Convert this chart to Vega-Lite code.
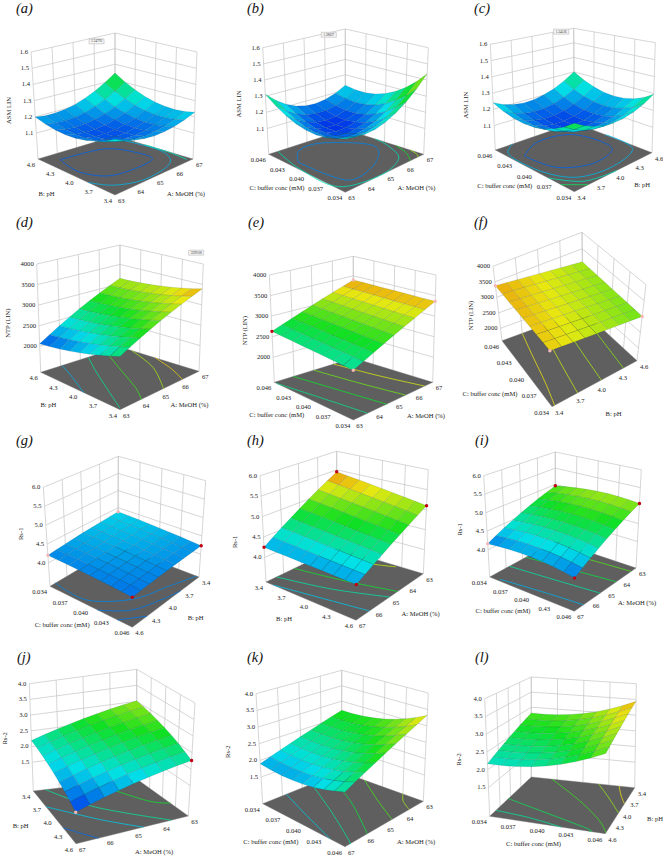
{"$schema":"https://vega.github.io/schema/vega-lite/v6.json","background":"white","padding":0,"autosize":{"type":"none"},"width":663,"height":856,"config":{"view":{"stroke":null}},
"datasets":{"panels":[
{"p":"a","fx":115,"fy":195,"rx":193,"ry":159,"bx":115,"by":136,"lx":38,"ly":159,"afx":115,"afy":83,"arx":197,"ary":52,"abx":115,"aby":33,"alx":31,"aly":52,"zmin":0.94,"zmax":1.6,"cmin":1.12,"cspan":0.42,"tux":32,"tuy":17,"tvx":-30,"tvy":17,"twx":-26,"twy":5,"tagx":16,"tagy":9},
{"p":"b","fx":124.3,"fy":192.3,"rx":202.7,"ry":154.3,"bx":124.3,"by":129.5,"lx":47.7,"ly":154.3,"afx":124.3,"afy":80,"arx":207.3,"ary":47.7,"abx":124.3,"aby":29,"alx":41.7,"aly":47.7,"zmin":0.94,"zmax":1.6,"cmin":1.12,"cspan":0.42,"tux":32,"tuy":15,"tvx":-30,"tvy":15,"twx":-27,"twy":3,"tagx":26,"tagy":9},
{"p":"c","fx":132.3,"fy":191.7,"rx":210,"ry":152.7,"bx":132.3,"by":122.7,"lx":53.3,"ly":150,"afx":132.3,"afy":79,"arx":213.3,"ary":42.7,"abx":131.7,"aby":28.3,"alx":48.3,"aly":44.3,"zmin":0.95,"zmax":1.6,"cmin":1.12,"cspan":0.42,"tux":29,"tuy":13,"tvx":-30,"tvy":15,"twx":-27,"twy":8,"tagx":32,"tagy":9},
{"p":"d","fx":120,"fy":195.7,"rx":199,"ry":157.3,"bx":120,"by":133,"lx":40.7,"ly":158.3,"afx":120,"afy":82.7,"arx":203.3,"ary":50,"abx":120,"aby":31,"alx":36.7,"aly":50,"zmin":1368,"zmax":4000,"cmin":2000,"cspan":1650,"tux":30,"tuy":14,"tvx":-32,"tvy":14,"twx":-31,"twy":5,"tagx":16,"tagy":9},
{"p":"e","fx":132.3,"fy":206,"rx":211.7,"ry":168.3,"bx":132.3,"by":144,"lx":53.3,"ly":168.3,"afx":132.3,"afy":93,"arx":215,"ary":61,"abx":132.3,"aby":42.3,"alx":48.3,"aly":61,"zmin":1392,"zmax":4000,"cmin":2000,"cspan":1650,"tux":33,"tuy":15,"tvx":-37,"tvy":14,"twx":-27,"twy":2,"tagx":27,"tagy":9},
{"p":"f","fx":110,"fy":192.7,"rx":195,"ry":146.7,"bx":141,"by":97,"lx":60,"ly":126.7,"afx":107,"afy":113.7,"arx":204,"ary":70.7,"abx":140,"aby":18.3,"alx":51,"aly":52.3,"zmin":1602,"zmax":4000,"cmin":2000,"cspan":1650,"tux":19,"tuy":30,"tvx":-37,"tvy":20,"twx":-27,"twy":12,"tagx":32,"tagy":9},
{"p":"g","fx":132.3,"fy":199.3,"rx":199,"ry":149,"bx":118,"by":118,"lx":50,"ly":158.3,"afx":132.5,"afy":97,"arx":205.7,"ary":52.7,"abx":118.3,"aby":28.3,"alx":43.3,"aly":59.3,"zmin":3.38,"zmax":6,"cmin":4,"cspan":1.65,"tux":30,"tuy":16,"tvx":-29,"tvy":18,"twx":-26,"twy":-3,"tagx":16,"tagy":13},
{"p":"h","fx":135,"fy":192.3,"rx":202.3,"ry":145.7,"bx":115.7,"by":120,"lx":45,"ly":154,"afx":136,"afy":81.8,"arx":207.3,"ary":41.7,"abx":115.7,"aby":23.3,"alx":39,"aly":47.7,"zmin":3.4,"zmax":6,"cmin":4,"cspan":1.65,"tux":31,"tuy":17,"tvx":-27,"tvy":18,"twx":-28,"twy":13,"tagx":26,"tagy":13},
{"p":"i","fx":132.3,"fy":183.3,"rx":194,"ry":140,"bx":113.3,"by":113,"lx":47.7,"ly":149,"afx":133,"afy":78.3,"arx":199.3,"ary":41.7,"abx":113.3,"aby":24,"alx":41.7,"aly":47.7,"zmin":3.26,"zmax":6,"cmin":4,"cspan":1.65,"tux":32,"tuy":13,"tvx":-29,"tvy":17,"twx":-27,"twy":3,"tagx":33,"tagy":13},
{"p":"j","fx":76,"fy":201.7,"rx":188.3,"ry":174,"bx":136.7,"by":137,"lx":33.3,"ly":149,"afx":75,"afy":85.7,"arx":195,"ary":61,"abx":136.7,"aby":27.3,"alx":29.3,"aly":41.7,"zmin":0.58,"zmax":4,"cmin":1.5,"cspan":2.3,"tux":22,"tuy":22,"tvx":-34,"tvy":9,"twx":-26,"twy":1,"tagx":17,"tagy":15.7},
{"p":"k","fx":124,"fy":204.7,"rx":202.3,"ry":159.3,"bx":120.7,"by":130,"lx":41.7,"ly":161.7,"afx":124,"afy":90.2,"arx":207.3,"ary":51,"abx":120.7,"aby":28.3,"alx":35,"aly":51.7,"zmin":0.7,"zmax":4,"cmin":1.5,"cspan":2.3,"tux":32,"tuy":18,"tvx":-33,"tvy":17,"twx":-31,"twy":3,"tagx":26,"tagy":16},
{"p":"l","fx":163.3,"fy":191.7,"rx":192.7,"ry":145.7,"bx":89.3,"by":135,"lx":47.7,"ly":174.3,"afx":164,"afy":71.7,"arx":194.3,"ary":41.7,"abx":89.3,"aby":35,"alx":42.7,"aly":56.7,"zmin":0.69,"zmax":4,"cmin":1.5,"cspan":2.3,"tux":35,"tuy":8,"tvx":-14,"tvy":19,"twx":-28,"twy":2,"tagx":33,"tagy":16}
],
"rows":[
{"p":"a","kind":"floor"},{"p":"b","kind":"floor"},{"p":"c","kind":"floor"},{"p":"d","kind":"floor"},{"p":"e","kind":"floor"},{"p":"f","kind":"floor"},{"p":"g","kind":"floor"},{"p":"h","kind":"floor"},{"p":"i","kind":"floor"},{"p":"j","kind":"floor"},{"p":"k","kind":"floor"},{"p":"l","kind":"floor"},
{"p":"a","kind":"flag","u":0.78,"v":1,"w":0.96,"label":"1.34793"},{"p":"b","kind":"flag","u":0.8,"v":1,"w":0.98,"label":"1.38827"},{"p":"c","kind":"flag","u":0.85,"v":1,"w":0.99,"label":"1.34526"},{"p":"d","kind":"flag","u":1,"v":0.09,"w":1.09,"label":"3399.08"},
{"p":"a","kind":"tu","label":"A: MeOH (%)"},{"p":"a","kind":"tv","label":"B: pH"},{"p":"a","kind":"tw","label":"ASM LIN"},
{"p":"b","kind":"tu","label":"A: MeOH (%)"},{"p":"b","kind":"tv","label":"C: buffer conc (mM)"},{"p":"b","kind":"tw","label":"ASM LIN"},
{"p":"c","kind":"tu","label":"B: pH"},{"p":"c","kind":"tv","label":"C: buffer conc (mM)"},{"p":"c","kind":"tw","label":"ASM LIN"},
{"p":"d","kind":"tu","label":"A: MeOH (%)"},{"p":"d","kind":"tv","label":"B: pH"},{"p":"d","kind":"tw","label":"NTP (LIN)"},
{"p":"e","kind":"tu","label":"A: MeOH (%)"},{"p":"e","kind":"tv","label":"C: buffer conc (mM)"},{"p":"e","kind":"tw","label":"NTP (LIN)"},
{"p":"f","kind":"tu","label":"B: pH"},{"p":"f","kind":"tv","label":"C: buffer conc (mM)"},{"p":"f","kind":"tw","label":"NTP (LIN)"},
{"p":"g","kind":"tu","label":"B: pH"},{"p":"g","kind":"tv","label":"C: buffer conc (mM)"},{"p":"g","kind":"tw","label":"Rs-1"},
{"p":"h","kind":"tu","label":"A: MeOH (%)"},{"p":"h","kind":"tv","label":"B: pH"},{"p":"h","kind":"tw","label":"Rs-1"},
{"p":"i","kind":"tu","label":"A: MeOH (%)"},{"p":"i","kind":"tv","label":"C: buffer conc (mM)"},{"p":"i","kind":"tw","label":"Rs-1"},
{"p":"j","kind":"tu","label":"A: MeOH (%)"},{"p":"j","kind":"tv","label":"B: pH"},{"p":"j","kind":"tw","label":"Rs-2"},
{"p":"k","kind":"tu","label":"A: MeOH (%)"},{"p":"k","kind":"tv","label":"C: buffer conc (mM)"},{"p":"k","kind":"tw","label":"Rs-2"},
{"p":"l","kind":"tu","label":"B: pH"},{"p":"l","kind":"tv","label":"C: buffer conc (mM)"},{"p":"l","kind":"tw","label":"Rs-2"},
{"p":"a","kind":"u","f":0,"label":"63"},{"p":"a","kind":"u","f":0.25,"label":"64"},{"p":"a","kind":"u","f":0.5,"label":"65"},{"p":"a","kind":"u","f":0.75,"label":"66"},{"p":"a","kind":"u","f":1,"label":"67"},
{"p":"a","kind":"v","f":0,"label":"3.4"},{"p":"a","kind":"v","f":0.25,"label":"3.7"},{"p":"a","kind":"v","f":0.5,"label":"4.0"},{"p":"a","kind":"v","f":0.75,"label":"4.3"},{"p":"a","kind":"v","f":1,"label":"4.6"},
{"p":"a","kind":"w","f":0.242,"label":"1.1"},{"p":"a","kind":"w","f":0.394,"label":"1.2"},{"p":"a","kind":"w","f":0.545,"label":"1.3"},{"p":"a","kind":"w","f":0.697,"label":"1.4"},{"p":"a","kind":"w","f":0.848,"label":"1.5"},{"p":"a","kind":"w","f":1,"label":"1.6"},
{"p":"b","kind":"u","f":0,"label":"63"},{"p":"b","kind":"u","f":0.25,"label":"64"},{"p":"b","kind":"u","f":0.5,"label":"65"},{"p":"b","kind":"u","f":0.75,"label":"66"},{"p":"b","kind":"u","f":1,"label":"67"},
{"p":"b","kind":"v","f":0,"label":"0.034"},{"p":"b","kind":"v","f":0.25,"label":"0.037"},{"p":"b","kind":"v","f":0.5,"label":"0.040"},{"p":"b","kind":"v","f":0.75,"label":"0.043"},{"p":"b","kind":"v","f":1,"label":"0.046"},
{"p":"b","kind":"w","f":0.242,"label":"1.1"},{"p":"b","kind":"w","f":0.394,"label":"1.2"},{"p":"b","kind":"w","f":0.545,"label":"1.3"},{"p":"b","kind":"w","f":0.697,"label":"1.4"},{"p":"b","kind":"w","f":0.848,"label":"1.5"},{"p":"b","kind":"w","f":1,"label":"1.6"},
{"p":"c","kind":"u","f":0,"label":"3.4"},{"p":"c","kind":"u","f":0.25,"label":"3.7"},{"p":"c","kind":"u","f":0.5,"label":"4.0"},{"p":"c","kind":"u","f":0.75,"label":"4.3"},{"p":"c","kind":"u","f":1,"label":"4.6"},
{"p":"c","kind":"v","f":0,"label":"0.034"},{"p":"c","kind":"v","f":0.25,"label":"0.037"},{"p":"c","kind":"v","f":0.5,"label":"0.040"},{"p":"c","kind":"v","f":0.75,"label":"0.043"},{"p":"c","kind":"v","f":1,"label":"0.046"},
{"p":"c","kind":"w","f":0.231,"label":"1.1"},{"p":"c","kind":"w","f":0.385,"label":"1.2"},{"p":"c","kind":"w","f":0.538,"label":"1.3"},{"p":"c","kind":"w","f":0.692,"label":"1.4"},{"p":"c","kind":"w","f":0.846,"label":"1.5"},{"p":"c","kind":"w","f":1,"label":"1.6"},
{"p":"d","kind":"u","f":0,"label":"63"},{"p":"d","kind":"u","f":0.25,"label":"64"},{"p":"d","kind":"u","f":0.5,"label":"65"},{"p":"d","kind":"u","f":0.75,"label":"66"},{"p":"d","kind":"u","f":1,"label":"67"},
{"p":"d","kind":"v","f":0,"label":"3.4"},{"p":"d","kind":"v","f":0.25,"label":"3.7"},{"p":"d","kind":"v","f":0.5,"label":"4.0"},{"p":"d","kind":"v","f":0.75,"label":"4.3"},{"p":"d","kind":"v","f":1,"label":"4.6"},
{"p":"d","kind":"w","f":0.24,"label":"2000"},{"p":"d","kind":"w","f":0.43,"label":"2500"},{"p":"d","kind":"w","f":0.62,"label":"3000"},{"p":"d","kind":"w","f":0.81,"label":"3500"},{"p":"d","kind":"w","f":1,"label":"4000"},
{"p":"e","kind":"u","f":0,"label":"63"},{"p":"e","kind":"u","f":0.25,"label":"64"},{"p":"e","kind":"u","f":0.5,"label":"65"},{"p":"e","kind":"u","f":0.75,"label":"66"},{"p":"e","kind":"u","f":1,"label":"67"},
{"p":"e","kind":"v","f":0,"label":"0.034"},{"p":"e","kind":"v","f":0.25,"label":"0.037"},{"p":"e","kind":"v","f":0.5,"label":"0.040"},{"p":"e","kind":"v","f":0.75,"label":"0.043"},{"p":"e","kind":"v","f":1,"label":"0.046"},
{"p":"e","kind":"w","f":0.233,"label":"2000"},{"p":"e","kind":"w","f":0.425,"label":"2500"},{"p":"e","kind":"w","f":0.617,"label":"3000"},{"p":"e","kind":"w","f":0.808,"label":"3500"},{"p":"e","kind":"w","f":1,"label":"4000"},
{"p":"f","kind":"u","f":0,"label":"3.4"},{"p":"f","kind":"u","f":0.25,"label":"3.7"},{"p":"f","kind":"u","f":0.5,"label":"4.0"},{"p":"f","kind":"u","f":0.75,"label":"4.3"},{"p":"f","kind":"u","f":1,"label":"4.6"},
{"p":"f","kind":"v","f":0,"label":"0.034"},{"p":"f","kind":"v","f":0.25,"label":"0.037"},{"p":"f","kind":"v","f":0.5,"label":"0.040"},{"p":"f","kind":"v","f":0.75,"label":"0.043"},{"p":"f","kind":"v","f":1,"label":"0.046"},
{"p":"f","kind":"w","f":0.166,"label":"2000"},{"p":"f","kind":"w","f":0.374,"label":"2500"},{"p":"f","kind":"w","f":0.583,"label":"3000"},{"p":"f","kind":"w","f":0.791,"label":"3500"},{"p":"f","kind":"w","f":1,"label":"4000"},
{"p":"g","kind":"u","f":0,"label":"4.6"},{"p":"g","kind":"u","f":0.25,"label":"4.3"},{"p":"g","kind":"u","f":0.5,"label":"4.0"},{"p":"g","kind":"u","f":0.75,"label":"3.7"},{"p":"g","kind":"u","f":1,"label":"3.4"},
{"p":"g","kind":"v","f":0,"label":"0.046"},{"p":"g","kind":"v","f":0.25,"label":"0.043"},{"p":"g","kind":"v","f":0.5,"label":"0.040"},{"p":"g","kind":"v","f":0.75,"label":"0.037"},{"p":"g","kind":"v","f":1,"label":"0.034"},
{"p":"g","kind":"w","f":0.237,"label":"4.0"},{"p":"g","kind":"w","f":0.427,"label":"4.5"},{"p":"g","kind":"w","f":0.618,"label":"5.0"},{"p":"g","kind":"w","f":0.809,"label":"5.5"},{"p":"g","kind":"w","f":1,"label":"6.0"},
{"p":"h","kind":"u","f":0,"label":"67"},{"p":"h","kind":"u","f":0.25,"label":"66"},{"p":"h","kind":"u","f":0.5,"label":"65"},{"p":"h","kind":"u","f":0.75,"label":"64"},{"p":"h","kind":"u","f":1,"label":"63"},
{"p":"h","kind":"v","f":0,"label":"4.6"},{"p":"h","kind":"v","f":0.25,"label":"4.3"},{"p":"h","kind":"v","f":0.5,"label":"4.0"},{"p":"h","kind":"v","f":0.75,"label":"3.7"},{"p":"h","kind":"v","f":1,"label":"3.4"},
{"p":"h","kind":"w","f":0.231,"label":"4.0"},{"p":"h","kind":"w","f":0.423,"label":"4.5"},{"p":"h","kind":"w","f":0.615,"label":"5.0"},{"p":"h","kind":"w","f":0.808,"label":"5.5"},{"p":"h","kind":"w","f":1,"label":"6.0"},
{"p":"i","kind":"u","f":0,"label":"67"},{"p":"i","kind":"u","f":0.25,"label":"66"},{"p":"i","kind":"u","f":0.5,"label":"65"},{"p":"i","kind":"u","f":0.75,"label":"64"},{"p":"i","kind":"u","f":1,"label":"63"},
{"p":"i","kind":"v","f":0,"label":"0.046"},{"p":"i","kind":"v","f":0.25,"label":"0.43"},{"p":"i","kind":"v","f":0.5,"label":"0.040"},{"p":"i","kind":"v","f":0.75,"label":"0.037"},{"p":"i","kind":"v","f":1,"label":"0.034"},
{"p":"i","kind":"w","f":0.27,"label":"4.0"},{"p":"i","kind":"w","f":0.453,"label":"4.5"},{"p":"i","kind":"w","f":0.635,"label":"5.0"},{"p":"i","kind":"w","f":0.818,"label":"5.5"},{"p":"i","kind":"w","f":1,"label":"6.0"},
{"p":"j","kind":"u","f":0,"label":"67"},{"p":"j","kind":"u","f":0.25,"label":"66"},{"p":"j","kind":"u","f":0.5,"label":"65"},{"p":"j","kind":"u","f":0.75,"label":"64"},{"p":"j","kind":"u","f":1,"label":"63"},
{"p":"j","kind":"v","f":0,"label":"4.6"},{"p":"j","kind":"v","f":0.25,"label":"4.3"},{"p":"j","kind":"v","f":0.5,"label":"4.0"},{"p":"j","kind":"v","f":0.75,"label":"3.7"},{"p":"j","kind":"v","f":1,"label":"3.4"},
{"p":"j","kind":"w","f":0.269,"label":"1.5"},{"p":"j","kind":"w","f":0.415,"label":"2.0"},{"p":"j","kind":"w","f":0.561,"label":"2.5"},{"p":"j","kind":"w","f":0.708,"label":"3.0"},{"p":"j","kind":"w","f":0.854,"label":"3.5"},{"p":"j","kind":"w","f":1,"label":"4.0"},
{"p":"k","kind":"u","f":0,"label":"67"},{"p":"k","kind":"u","f":0.25,"label":"66"},{"p":"k","kind":"u","f":0.5,"label":"65"},{"p":"k","kind":"u","f":0.75,"label":"64"},{"p":"k","kind":"u","f":1,"label":"63"},
{"p":"k","kind":"v","f":0,"label":"0.046"},{"p":"k","kind":"v","f":0.25,"label":"0.043"},{"p":"k","kind":"v","f":0.5,"label":"0.040"},{"p":"k","kind":"v","f":0.75,"label":"0.037"},{"p":"k","kind":"v","f":1,"label":"0.034"},
{"p":"k","kind":"w","f":0.242,"label":"1.5"},{"p":"k","kind":"w","f":0.394,"label":"2.0"},{"p":"k","kind":"w","f":0.545,"label":"2.5"},{"p":"k","kind":"w","f":0.697,"label":"3.0"},{"p":"k","kind":"w","f":0.848,"label":"3.5"},{"p":"k","kind":"w","f":1,"label":"4.0"},
{"p":"l","kind":"u","f":0,"label":"4.6"},{"p":"l","kind":"u","f":0.25,"label":"4.3"},{"p":"l","kind":"u","f":0.5,"label":"4.0"},{"p":"l","kind":"u","f":0.75,"label":"3.7"},{"p":"l","kind":"u","f":1,"label":"3.4"},
{"p":"l","kind":"v","f":0,"label":"0.046"},{"p":"l","kind":"v","f":0.25,"label":"0.043"},{"p":"l","kind":"v","f":0.5,"label":"0.040"},{"p":"l","kind":"v","f":0.75,"label":"0.037"},{"p":"l","kind":"v","f":1,"label":"0.034"},
{"p":"l","kind":"w","f":0.245,"label":"1.5"},{"p":"l","kind":"w","f":0.396,"label":"2.0"},{"p":"l","kind":"w","f":0.547,"label":"2.5"},{"p":"l","kind":"w","f":0.698,"label":"3.0"},{"p":"l","kind":"w","f":0.849,"label":"3.5"},{"p":"l","kind":"w","f":1,"label":"4.0"},
{"p":"e","kind":"pt","i":0,"j":8,"z":2630,"res":"above"},{"p":"e","kind":"pt","i":8,"j":0,"z":3360,"res":"below"},{"p":"e","kind":"pt","i":8,"j":8,"z":3394,"res":"below"},{"p":"e","kind":"pt","i":0,"j":0,"z":2540,"res":"below"},
{"p":"f","kind":"pt","i":0,"j":0,"z":3302,"res":"below"},{"p":"f","kind":"pt","i":0,"j":8,"z":3376,"res":"below"},{"p":"f","kind":"pt","i":8,"j":0,"z":3000,"res":"below"},
{"p":"g","kind":"pt","i":0,"j":8,"z":4.2,"res":"below"},{"p":"g","kind":"pt","i":8,"j":0,"z":4.23,"res":"above"},{"p":"g","kind":"pt","i":0,"j":0,"z":4.15,"res":"above"},{"p":"g","kind":"pt","i":8,"j":8,"z":4.38,"res":"below"},
{"p":"h","kind":"pt","i":0,"j":8,"z":4.25,"res":"above"},{"p":"h","kind":"pt","i":0,"j":0,"z":4.24,"res":"above"},{"p":"h","kind":"pt","i":8,"j":0,"z":5.1,"res":"above"},{"p":"h","kind":"pt","i":8,"j":8,"z":5.45,"res":"above"},
{"p":"i","kind":"pt","i":0,"j":8,"z":4.16,"res":"below"},{"p":"i","kind":"pt","i":0,"j":0,"z":4.13,"res":"above"},{"p":"i","kind":"pt","i":8,"j":0,"z":5.06,"res":"above"},{"p":"i","kind":"pt","i":8,"j":8,"z":4.96,"res":"above"},
{"p":"j","kind":"pt","i":0,"j":0,"z":1.51,"res":"below"},{"p":"j","kind":"pt","i":8,"j":0,"z":2.26,"res":"above"},
{"p":"a","kind":"c","c":1,"u":0.16,"v":0.87,"z":1.15},{"p":"a","kind":"c","c":1,"u":0.66,"v":0.81,"z":1.15},{"p":"a","kind":"c","c":1,"u":0.8,"v":0.55,"z":1.15},{"p":"a","kind":"c","c":1,"u":0.76,"v":0.29,"z":1.15},{"p":"a","kind":"c","c":1,"u":0.28,"v":0.3,"z":1.15},{"p":"a","kind":"c","c":1,"u":0.1,"v":0.55,"z":1.15},{"p":"a","kind":"c","c":1,"u":0.16,"v":0.87,"z":1.15},
{"p":"a","kind":"c","c":2,"u":0.95,"v":0.9,"z":1.2},{"p":"a","kind":"c","c":2,"u":0.98,"v":0.4,"z":1.2},{"p":"a","kind":"c","c":2,"u":0.8,"v":0.1,"z":1.2},{"p":"a","kind":"c","c":2,"u":0.4,"v":0.03,"z":1.2},{"p":"a","kind":"c","c":2,"u":0.13,"v":0.15,"z":1.2},{"p":"a","kind":"c","c":2,"u":0,"v":0.35,"z":1.2},
{"p":"a","kind":"c","c":3,"u":1,"v":0.62,"z":1.25},{"p":"a","kind":"c","c":3,"u":0.995,"v":0.3,"z":1.25},{"p":"a","kind":"c","c":3,"u":0.96,"v":0.04,"z":1.25},
{"p":"b","kind":"c","c":1,"u":0.1,"v":0.71,"z":1.17},{"p":"b","kind":"c","c":1,"u":0.3,"v":0.9,"z":1.17},{"p":"b","kind":"c","c":1,"u":0.59,"v":0.89,"z":1.17},{"p":"b","kind":"c","c":1,"u":0.87,"v":0.52,"z":1.17},{"p":"b","kind":"c","c":1,"u":0.6,"v":0.22,"z":1.17},{"p":"b","kind":"c","c":1,"u":0.18,"v":0.15,"z":1.17},{"p":"b","kind":"c","c":1,"u":0.1,"v":0.71,"z":1.17},
{"p":"b","kind":"c","c":2,"u":0.12,"v":1,"z":1.25},{"p":"b","kind":"c","c":2,"u":0.01,"v":0.6,"z":1.25},{"p":"b","kind":"c","c":2,"u":0.03,"v":0.12,"z":1.25},{"p":"b","kind":"c","c":2,"u":0.45,"v":0,"z":1.25},{"p":"b","kind":"c","c":2,"u":0.8,"v":0.12,"z":1.25},{"p":"b","kind":"c","c":2,"u":0.95,"v":0.4,"z":1.25},{"p":"b","kind":"c","c":2,"u":1,"v":0.62,"z":1.25},
{"p":"b","kind":"c","c":3,"u":0.83,"v":0,"z":1.33},{"p":"b","kind":"c","c":3,"u":0.93,"v":0.15,"z":1.33},{"p":"b","kind":"c","c":3,"u":1,"v":0.35,"z":1.33},
{"p":"b","kind":"c","c":4,"u":0.93,"v":0,"z":1.4},{"p":"b","kind":"c","c":4,"u":0.97,"v":0.06,"z":1.4},{"p":"b","kind":"c","c":4,"u":1,"v":0.17,"z":1.4},
{"p":"c","kind":"c","c":1,"u":0.13,"v":0.76,"z":1.15},{"p":"c","kind":"c","c":1,"u":0.45,"v":0.9,"z":1.15},{"p":"c","kind":"c","c":1,"u":0.8,"v":0.8,"z":1.15},{"p":"c","kind":"c","c":1,"u":0.84,"v":0.36,"z":1.15},{"p":"c","kind":"c","c":1,"u":0.5,"v":0.25,"z":1.15},{"p":"c","kind":"c","c":1,"u":0.2,"v":0.42,"z":1.15},{"p":"c","kind":"c","c":1,"u":0.13,"v":0.76,"z":1.15},
{"p":"c","kind":"c","c":2,"u":0.22,"v":1,"z":1.2},{"p":"c","kind":"c","c":2,"u":0.03,"v":0.85,"z":1.2},{"p":"c","kind":"c","c":2,"u":0.04,"v":0.45,"z":1.2},{"p":"c","kind":"c","c":2,"u":0.2,"v":0.17,"z":1.2},{"p":"c","kind":"c","c":2,"u":0.55,"v":0.08,"z":1.2},{"p":"c","kind":"c","c":2,"u":0.95,"v":0.2,"z":1.2},{"p":"c","kind":"c","c":2,"u":1,"v":0.6,"z":1.2},
{"p":"c","kind":"c","c":3,"u":0,"v":0.33,"z":1.25},{"p":"c","kind":"c","c":3,"u":0.2,"v":0.07,"z":1.25},{"p":"c","kind":"c","c":3,"u":0.55,"v":0,"z":1.25},
{"p":"c","kind":"c","c":4,"u":0,"v":0.17,"z":1.3},{"p":"c","kind":"c","c":4,"u":0.18,"v":0,"z":1.3},
{"p":"d","kind":"c","c":1,"u":0.27,"v":1,"z":2300},{"p":"d","kind":"c","c":1,"u":0.15,"v":0.75,"z":2300},{"p":"d","kind":"c","c":1,"u":0,"v":0.46,"z":2300},
{"p":"d","kind":"c","c":2,"u":0.6,"v":1,"z":2600},{"p":"d","kind":"c","c":2,"u":0.4,"v":0.7,"z":2600},{"p":"d","kind":"c","c":2,"u":0.17,"v":0.3,"z":2600},{"p":"d","kind":"c","c":2,"u":0.02,"v":0.02,"z":2600},
{"p":"d","kind":"c","c":3,"u":0.82,"v":1,"z":2900},{"p":"d","kind":"c","c":3,"u":0.6,"v":0.6,"z":2900},{"p":"d","kind":"c","c":3,"u":0.4,"v":0.2,"z":2900},{"p":"d","kind":"c","c":3,"u":0.27,"v":0,"z":2900},
{"p":"d","kind":"c","c":4,"u":1,"v":0.85,"z":3100},{"p":"d","kind":"c","c":4,"u":0.82,"v":0.4,"z":3100},{"p":"d","kind":"c","c":4,"u":0.55,"v":0,"z":3100},
{"p":"d","kind":"c","c":5,"u":1,"v":0.55,"z":3300},{"p":"d","kind":"c","c":5,"u":0.9,"v":0.25,"z":3300},{"p":"d","kind":"c","c":5,"u":0.79,"v":0,"z":3300},
{"p":"e","kind":"c","c":1,"u":0,"v":0.97,"z":2620},{"p":"e","kind":"c","c":1,"u":0.1,"v":0.5,"z":2620},{"p":"e","kind":"c","c":1,"u":0.18,"v":0,"z":2620},
{"p":"e","kind":"c","c":2,"u":0.24,"v":1,"z":2800},{"p":"e","kind":"c","c":2,"u":0.34,"v":0.5,"z":2800},{"p":"e","kind":"c","c":2,"u":0.42,"v":0,"z":2800},
{"p":"e","kind":"c","c":3,"u":0.5,"v":1,"z":3000},{"p":"e","kind":"c","c":3,"u":0.58,"v":0.5,"z":3000},{"p":"e","kind":"c","c":3,"u":0.66,"v":0,"z":3000},
{"p":"e","kind":"c","c":4,"u":0.75,"v":1,"z":3200},{"p":"e","kind":"c","c":4,"u":0.82,"v":0.5,"z":3200},{"p":"e","kind":"c","c":4,"u":0.9,"v":0,"z":3200},
{"p":"f","kind":"c","c":1,"u":0.03,"v":0,"z":3250},{"p":"f","kind":"c","c":1,"u":0.1,"v":0.3,"z":3250},{"p":"f","kind":"c","c":1,"u":0.18,"v":0.7,"z":3250},{"p":"f","kind":"c","c":1,"u":0.25,"v":1,"z":3250},
{"p":"f","kind":"c","c":2,"u":0.3,"v":0,"z":3180},{"p":"f","kind":"c","c":2,"u":0.38,"v":0.5,"z":3180},{"p":"f","kind":"c","c":2,"u":0.48,"v":1,"z":3180},
{"p":"f","kind":"c","c":3,"u":0.58,"v":0,"z":3110},{"p":"f","kind":"c","c":3,"u":0.64,"v":0.5,"z":3110},{"p":"f","kind":"c","c":3,"u":0.72,"v":1,"z":3110},
{"p":"f","kind":"c","c":4,"u":0.84,"v":0,"z":3050},{"p":"f","kind":"c","c":4,"u":0.9,"v":0.5,"z":3050},{"p":"f","kind":"c","c":4,"u":0.97,"v":1,"z":3050},
{"p":"g","kind":"c","c":1,"u":0.08,"v":1,"z":4.2},{"p":"g","kind":"c","c":1,"u":0.06,"v":0.6,"z":4.2},{"p":"g","kind":"c","c":1,"u":0.35,"v":0.28,"z":4.2},{"p":"g","kind":"c","c":1,"u":0.7,"v":0.15,"z":4.2},{"p":"g","kind":"c","c":1,"u":1,"v":0.03,"z":4.2},
{"p":"g","kind":"c","c":2,"u":0.45,"v":1,"z":4.3},{"p":"g","kind":"c","c":2,"u":0.42,"v":0.75,"z":4.3},{"p":"g","kind":"c","c":2,"u":0.6,"v":0.55,"z":4.3},{"p":"g","kind":"c","c":2,"u":1,"v":0.42,"z":4.3},
{"p":"g","kind":"c","c":3,"u":0,"v":0.42,"z":4.17},{"p":"g","kind":"c","c":3,"u":0.2,"v":0.18,"z":4.17},{"p":"g","kind":"c","c":3,"u":0.5,"v":0.06,"z":4.17},{"p":"g","kind":"c","c":3,"u":0.72,"v":0,"z":4.17},
{"p":"g","kind":"c","c":4,"u":0,"v":0.18,"z":4.16},{"p":"g","kind":"c","c":4,"u":0.22,"v":0,"z":4.16},
{"p":"h","kind":"c","c":1,"u":0,"v":0.92,"z":4.35},{"p":"h","kind":"c","c":1,"u":0.1,"v":0.5,"z":4.35},{"p":"h","kind":"c","c":1,"u":0.2,"v":0,"z":4.35},
{"p":"h","kind":"c","c":2,"u":0.15,"v":1,"z":4.55},{"p":"h","kind":"c","c":2,"u":0.3,"v":0.5,"z":4.55},{"p":"h","kind":"c","c":2,"u":0.5,"v":0,"z":4.55},
{"p":"h","kind":"c","c":3,"u":0.4,"v":1,"z":4.8},{"p":"h","kind":"c","c":3,"u":0.5,"v":0.5,"z":4.8},{"p":"h","kind":"c","c":3,"u":0.62,"v":0,"z":4.8},
{"p":"h","kind":"c","c":4,"u":0.78,"v":1,"z":5.15},{"p":"h","kind":"c","c":4,"u":0.9,"v":0.55,"z":5.15},{"p":"h","kind":"c","c":4,"u":0.98,"v":0.3,"z":5.15},
{"p":"i","kind":"c","c":1,"u":0.03,"v":0.9,"z":4.3},{"p":"i","kind":"c","c":1,"u":0.1,"v":0.45,"z":4.3},{"p":"i","kind":"c","c":1,"u":0.15,"v":0,"z":4.3},
{"p":"i","kind":"c","c":2,"u":0.3,"v":1,"z":4.55},{"p":"i","kind":"c","c":2,"u":0.36,"v":0.5,"z":4.55},{"p":"i","kind":"c","c":2,"u":0.42,"v":0,"z":4.55},
{"p":"i","kind":"c","c":3,"u":0.55,"v":1,"z":4.75},{"p":"i","kind":"c","c":3,"u":0.62,"v":0.5,"z":4.75},{"p":"i","kind":"c","c":3,"u":0.68,"v":0,"z":4.75},
{"p":"i","kind":"c","c":4,"u":0.8,"v":1,"z":4.95},{"p":"i","kind":"c","c":4,"u":0.88,"v":0.5,"z":4.95},{"p":"i","kind":"c","c":4,"u":0.92,"v":0,"z":4.95},
{"p":"j","kind":"c","c":1,"u":0,"v":0.3,"z":1.7},{"p":"j","kind":"c","c":1,"u":0.1,"v":0.15,"z":1.7},{"p":"j","kind":"c","c":1,"u":0.2,"v":0,"z":1.7},
{"p":"j","kind":"c","c":2,"u":0,"v":0.7,"z":2},{"p":"j","kind":"c","c":2,"u":0.35,"v":0.3,"z":2},{"p":"j","kind":"c","c":2,"u":0.6,"v":0,"z":2},
{"p":"j","kind":"c","c":3,"u":0.12,"v":1,"z":2.3},{"p":"j","kind":"c","c":3,"u":0.4,"v":0.55,"z":2.3},{"p":"j","kind":"c","c":3,"u":0.85,"v":0,"z":2.3},
{"p":"j","kind":"c","c":4,"u":0.6,"v":1,"z":2.6},{"p":"j","kind":"c","c":4,"u":0.85,"v":0.5,"z":2.6},{"p":"j","kind":"c","c":4,"u":1,"v":0.35,"z":2.6},
{"p":"k","kind":"c","c":1,"u":0.3,"v":1,"z":2},{"p":"k","kind":"c","c":1,"u":0.16,"v":0.65,"z":2},{"p":"k","kind":"c","c":1,"u":0.04,"v":0.3,"z":2},{"p":"k","kind":"c","c":1,"u":0,"v":0.18,"z":2},
{"p":"k","kind":"c","c":2,"u":0.62,"v":1,"z":2.3},{"p":"k","kind":"c","c":2,"u":0.35,"v":0.5,"z":2.3},{"p":"k","kind":"c","c":2,"u":0.1,"v":0.05,"z":2.3},{"p":"k","kind":"c","c":2,"u":0.06,"v":0,"z":2.3},
{"p":"k","kind":"c","c":3,"u":0.86,"v":1,"z":2.55},{"p":"k","kind":"c","c":3,"u":0.6,"v":0.5,"z":2.55},{"p":"k","kind":"c","c":3,"u":0.35,"v":0.1,"z":2.55},{"p":"k","kind":"c","c":3,"u":0.28,"v":0,"z":2.55},
{"p":"k","kind":"c","c":4,"u":1,"v":0.72,"z":2.8},{"p":"k","kind":"c","c":4,"u":0.78,"v":0.35,"z":2.8},{"p":"k","kind":"c","c":4,"u":0.6,"v":0,"z":2.8},
{"p":"k","kind":"c","c":5,"u":1,"v":0.25,"z":3.05},{"p":"k","kind":"c","c":5,"u":0.9,"v":0.15,"z":3.05},{"p":"k","kind":"c","c":5,"u":0.82,"v":0,"z":3.05},
{"p":"l","kind":"c","c":1,"u":0.15,"v":1,"z":2.3},{"p":"l","kind":"c","c":1,"u":0.1,"v":0.7,"z":2.3},{"p":"l","kind":"c","c":1,"u":0,"v":0.38,"z":2.3},
{"p":"l","kind":"c","c":2,"u":0.45,"v":1,"z":2.5},{"p":"l","kind":"c","c":2,"u":0.28,"v":0.65,"z":2.5},{"p":"l","kind":"c","c":2,"u":0.05,"v":0.17,"z":2.5},{"p":"l","kind":"c","c":2,"u":0,"v":0.14,"z":2.5},
{"p":"l","kind":"c","c":3,"u":1,"v":0.8,"z":2.75},{"p":"l","kind":"c","c":3,"u":0.6,"v":0.4,"z":2.75},{"p":"l","kind":"c","c":3,"u":0.25,"v":0.12,"z":2.75},{"p":"l","kind":"c","c":3,"u":0.02,"v":0,"z":2.75},
{"p":"l","kind":"c","c":4,"u":1,"v":0.35,"z":3},{"p":"l","kind":"c","c":4,"u":0.75,"v":0.18,"z":3},{"p":"l","kind":"c","c":4,"u":0.45,"v":0,"z":3},
{"p":"l","kind":"c","c":5,"u":1,"v":0.15,"z":3.25},{"p":"l","kind":"c","c":5,"u":0.82,"v":0.08,"z":3.25},{"p":"l","kind":"c","c":5,"u":0.65,"v":0,"z":3.25},
{"p":"a","i":0,"j":0,"z":1.269},{"p":"a","i":0,"j":1,"z":1.234},{"p":"a","i":0,"j":2,"z":1.207},{"p":"a","i":0,"j":3,"z":1.187},{"p":"a","i":0,"j":4,"z":1.174},{"p":"a","i":0,"j":5,"z":1.169},{"p":"a","i":0,"j":6,"z":1.171},{"p":"a","i":0,"j":7,"z":1.182},{"p":"a","i":0,"j":8,"z":1.199},
{"p":"a","i":1,"j":0,"z":1.238},{"p":"a","i":1,"j":1,"z":1.206},{"p":"a","i":1,"j":2,"z":1.181},{"p":"a","i":1,"j":3,"z":1.164},{"p":"a","i":1,"j":4,"z":1.154},{"p":"a","i":1,"j":5,"z":1.152},{"p":"a","i":1,"j":6,"z":1.157},{"p":"a","i":1,"j":7,"z":1.17},{"p":"a","i":1,"j":8,"z":1.19},
{"p":"a","i":2,"j":0,"z":1.214},{"p":"a","i":2,"j":1,"z":1.185},{"p":"a","i":2,"j":2,"z":1.163},{"p":"a","i":2,"j":3,"z":1.149},{"p":"a","i":2,"j":4,"z":1.142},{"p":"a","i":2,"j":5,"z":1.143},{"p":"a","i":2,"j":6,"z":1.151},{"p":"a","i":2,"j":7,"z":1.167},{"p":"a","i":2,"j":8,"z":1.19},
{"p":"a","i":3,"j":0,"z":1.198},{"p":"a","i":3,"j":1,"z":1.172},{"p":"a","i":3,"j":2,"z":1.153},{"p":"a","i":3,"j":3,"z":1.142},{"p":"a","i":3,"j":4,"z":1.138},{"p":"a","i":3,"j":5,"z":1.142},{"p":"a","i":3,"j":6,"z":1.153},{"p":"a","i":3,"j":7,"z":1.171},{"p":"a","i":3,"j":8,"z":1.197},
{"p":"a","i":4,"j":0,"z":1.189},{"p":"a","i":4,"j":1,"z":1.166},{"p":"a","i":4,"j":2,"z":1.149},{"p":"a","i":4,"j":3,"z":1.141},{"p":"a","i":4,"j":4,"z":1.14},{"p":"a","i":4,"j":5,"z":1.147},{"p":"a","i":4,"j":6,"z":1.161},{"p":"a","i":4,"j":7,"z":1.182},{"p":"a","i":4,"j":8,"z":1.211},
{"p":"a","i":5,"j":0,"z":1.188},{"p":"a","i":5,"j":1,"z":1.168},{"p":"a","i":5,"j":2,"z":1.155},{"p":"a","i":5,"j":3,"z":1.149},{"p":"a","i":5,"j":4,"z":1.151},{"p":"a","i":5,"j":5,"z":1.161},{"p":"a","i":5,"j":6,"z":1.177},{"p":"a","i":5,"j":7,"z":1.202},{"p":"a","i":5,"j":8,"z":1.233},
{"p":"a","i":6,"j":0,"z":1.194},{"p":"a","i":6,"j":1,"z":1.176},{"p":"a","i":6,"j":2,"z":1.166},{"p":"a","i":6,"j":3,"z":1.163},{"p":"a","i":6,"j":4,"z":1.168},{"p":"a","i":6,"j":5,"z":1.181},{"p":"a","i":6,"j":6,"z":1.2},{"p":"a","i":6,"j":7,"z":1.228},{"p":"a","i":6,"j":8,"z":1.262},
{"p":"a","i":7,"j":0,"z":1.208},{"p":"a","i":7,"j":1,"z":1.194},{"p":"a","i":7,"j":2,"z":1.186},{"p":"a","i":7,"j":3,"z":1.186},{"p":"a","i":7,"j":4,"z":1.194},{"p":"a","i":7,"j":5,"z":1.209},{"p":"a","i":7,"j":6,"z":1.232},{"p":"a","i":7,"j":7,"z":1.262},{"p":"a","i":7,"j":8,"z":1.299},
{"p":"a","i":8,"j":0,"z":1.229},{"p":"a","i":8,"j":1,"z":1.217},{"p":"a","i":8,"j":2,"z":1.212},{"p":"a","i":8,"j":3,"z":1.216},{"p":"a","i":8,"j":4,"z":1.226},{"p":"a","i":8,"j":5,"z":1.244},{"p":"a","i":8,"j":6,"z":1.27},{"p":"a","i":8,"j":7,"z":1.303},{"p":"a","i":8,"j":8,"z":1.343},
{"p":"b","i":0,"j":0,"z":1.26},{"p":"b","i":0,"j":1,"z":1.23},{"p":"b","i":0,"j":2,"z":1.209},{"p":"b","i":0,"j":3,"z":1.2},{"p":"b","i":0,"j":4,"z":1.201},{"p":"b","i":0,"j":5,"z":1.212},{"p":"b","i":0,"j":6,"z":1.235},{"p":"b","i":0,"j":7,"z":1.268},{"p":"b","i":0,"j":8,"z":1.312},
{"p":"b","i":1,"j":0,"z":1.239},{"p":"b","i":1,"j":1,"z":1.204},{"p":"b","i":1,"j":2,"z":1.179},{"p":"b","i":1,"j":3,"z":1.166},{"p":"b","i":1,"j":4,"z":1.163},{"p":"b","i":1,"j":5,"z":1.17},{"p":"b","i":1,"j":6,"z":1.189},{"p":"b","i":1,"j":7,"z":1.218},{"p":"b","i":1,"j":8,"z":1.257},
{"p":"b","i":2,"j":0,"z":1.23},{"p":"b","i":2,"j":1,"z":1.191},{"p":"b","i":2,"j":2,"z":1.163},{"p":"b","i":2,"j":3,"z":1.145},{"p":"b","i":2,"j":4,"z":1.138},{"p":"b","i":2,"j":5,"z":1.141},{"p":"b","i":2,"j":6,"z":1.155},{"p":"b","i":2,"j":7,"z":1.181},{"p":"b","i":2,"j":8,"z":1.216},
{"p":"b","i":3,"j":0,"z":1.233},{"p":"b","i":3,"j":1,"z":1.19},{"p":"b","i":3,"j":2,"z":1.158},{"p":"b","i":3,"j":3,"z":1.136},{"p":"b","i":3,"j":4,"z":1.125},{"p":"b","i":3,"j":5,"z":1.124},{"p":"b","i":3,"j":6,"z":1.134},{"p":"b","i":3,"j":7,"z":1.156},{"p":"b","i":3,"j":8,"z":1.187},
{"p":"b","i":4,"j":0,"z":1.249},{"p":"b","i":4,"j":1,"z":1.202},{"p":"b","i":4,"j":2,"z":1.166},{"p":"b","i":4,"j":3,"z":1.14},{"p":"b","i":4,"j":4,"z":1.125},{"p":"b","i":4,"j":5,"z":1.12},{"p":"b","i":4,"j":6,"z":1.126},{"p":"b","i":4,"j":7,"z":1.144},{"p":"b","i":4,"j":8,"z":1.171},
{"p":"b","i":5,"j":0,"z":1.277},{"p":"b","i":5,"j":1,"z":1.226},{"p":"b","i":5,"j":2,"z":1.186},{"p":"b","i":5,"j":3,"z":1.156},{"p":"b","i":5,"j":4,"z":1.137},{"p":"b","i":5,"j":5,"z":1.128},{"p":"b","i":5,"j":6,"z":1.13},{"p":"b","i":5,"j":7,"z":1.144},{"p":"b","i":5,"j":8,"z":1.167},
{"p":"b","i":6,"j":0,"z":1.318},{"p":"b","i":6,"j":1,"z":1.263},{"p":"b","i":6,"j":2,"z":1.219},{"p":"b","i":6,"j":3,"z":1.185},{"p":"b","i":6,"j":4,"z":1.162},{"p":"b","i":6,"j":5,"z":1.149},{"p":"b","i":6,"j":6,"z":1.147},{"p":"b","i":6,"j":7,"z":1.157},{"p":"b","i":6,"j":8,"z":1.176},
{"p":"b","i":7,"j":0,"z":1.371},{"p":"b","i":7,"j":1,"z":1.312},{"p":"b","i":7,"j":2,"z":1.264},{"p":"b","i":7,"j":3,"z":1.226},{"p":"b","i":7,"j":4,"z":1.199},{"p":"b","i":7,"j":5,"z":1.182},{"p":"b","i":7,"j":6,"z":1.176},{"p":"b","i":7,"j":7,"z":1.182},{"p":"b","i":7,"j":8,"z":1.197},
{"p":"b","i":8,"j":0,"z":1.438},{"p":"b","i":8,"j":1,"z":1.375},{"p":"b","i":8,"j":2,"z":1.322},{"p":"b","i":8,"j":3,"z":1.28},{"p":"b","i":8,"j":4,"z":1.249},{"p":"b","i":8,"j":5,"z":1.228},{"p":"b","i":8,"j":6,"z":1.218},{"p":"b","i":8,"j":7,"z":1.219},{"p":"b","i":8,"j":8,"z":1.23},
{"p":"c","i":0,"j":0,"z":1.345},{"p":"c","i":0,"j":1,"z":1.296},{"p":"c","i":0,"j":2,"z":1.257},{"p":"c","i":0,"j":3,"z":1.229},{"p":"c","i":0,"j":4,"z":1.21},{"p":"c","i":0,"j":5,"z":1.203},{"p":"c","i":0,"j":6,"z":1.205},{"p":"c","i":0,"j":7,"z":1.218},{"p":"c","i":0,"j":8,"z":1.241},
{"p":"c","i":1,"j":0,"z":1.303},{"p":"c","i":1,"j":1,"z":1.255},{"p":"c","i":1,"j":2,"z":1.219},{"p":"c","i":1,"j":3,"z":1.191},{"p":"c","i":1,"j":4,"z":1.175},{"p":"c","i":1,"j":5,"z":1.169},{"p":"c","i":1,"j":6,"z":1.173},{"p":"c","i":1,"j":7,"z":1.187},{"p":"c","i":1,"j":8,"z":1.213},
{"p":"c","i":2,"j":0,"z":1.272},{"p":"c","i":2,"j":1,"z":1.225},{"p":"c","i":2,"j":2,"z":1.19},{"p":"c","i":2,"j":3,"z":1.165},{"p":"c","i":2,"j":4,"z":1.15},{"p":"c","i":2,"j":5,"z":1.145},{"p":"c","i":2,"j":6,"z":1.152},{"p":"c","i":2,"j":7,"z":1.167},{"p":"c","i":2,"j":8,"z":1.194},
{"p":"c","i":3,"j":0,"z":1.25},{"p":"c","i":3,"j":1,"z":1.205},{"p":"c","i":3,"j":2,"z":1.172},{"p":"c","i":3,"j":3,"z":1.148},{"p":"c","i":3,"j":4,"z":1.135},{"p":"c","i":3,"j":5,"z":1.132},{"p":"c","i":3,"j":6,"z":1.14},{"p":"c","i":3,"j":7,"z":1.157},{"p":"c","i":3,"j":8,"z":1.186},
{"p":"c","i":4,"j":0,"z":1.238},{"p":"c","i":4,"j":1,"z":1.195},{"p":"c","i":4,"j":2,"z":1.164},{"p":"c","i":4,"j":3,"z":1.141},{"p":"c","i":4,"j":4,"z":1.13},{"p":"c","i":4,"j":5,"z":1.129},{"p":"c","i":4,"j":6,"z":1.138},{"p":"c","i":4,"j":7,"z":1.157},{"p":"c","i":4,"j":8,"z":1.188},
{"p":"c","i":5,"j":0,"z":1.237},{"p":"c","i":5,"j":1,"z":1.196},{"p":"c","i":5,"j":2,"z":1.166},{"p":"c","i":5,"j":3,"z":1.146},{"p":"c","i":5,"j":4,"z":1.136},{"p":"c","i":5,"j":5,"z":1.136},{"p":"c","i":5,"j":6,"z":1.148},{"p":"c","i":5,"j":7,"z":1.168},{"p":"c","i":5,"j":8,"z":1.201},
{"p":"c","i":6,"j":0,"z":1.247},{"p":"c","i":6,"j":1,"z":1.207},{"p":"c","i":6,"j":2,"z":1.179},{"p":"c","i":6,"j":3,"z":1.16},{"p":"c","i":6,"j":4,"z":1.152},{"p":"c","i":6,"j":5,"z":1.154},{"p":"c","i":6,"j":6,"z":1.167},{"p":"c","i":6,"j":7,"z":1.189},{"p":"c","i":6,"j":8,"z":1.223},
{"p":"c","i":7,"j":0,"z":1.266},{"p":"c","i":7,"j":1,"z":1.228},{"p":"c","i":7,"j":2,"z":1.202},{"p":"c","i":7,"j":3,"z":1.184},{"p":"c","i":7,"j":4,"z":1.178},{"p":"c","i":7,"j":5,"z":1.182},{"p":"c","i":7,"j":6,"z":1.196},{"p":"c","i":7,"j":7,"z":1.22},{"p":"c","i":7,"j":8,"z":1.256},
{"p":"c","i":8,"j":0,"z":1.296},{"p":"c","i":8,"j":1,"z":1.259},{"p":"c","i":8,"j":2,"z":1.235},{"p":"c","i":8,"j":3,"z":1.22},{"p":"c","i":8,"j":4,"z":1.215},{"p":"c","i":8,"j":5,"z":1.22},{"p":"c","i":8,"j":6,"z":1.237},{"p":"c","i":8,"j":7,"z":1.263},{"p":"c","i":8,"j":8,"z":1.3},
{"p":"d","i":0,"j":0,"z":2610},{"p":"d","i":0,"j":1,"z":2515},{"p":"d","i":0,"j":2,"z":2428},{"p":"d","i":0,"j":3,"z":2348},{"p":"d","i":0,"j":4,"z":2275},{"p":"d","i":0,"j":5,"z":2210},{"p":"d","i":0,"j":6,"z":2152},{"p":"d","i":0,"j":7,"z":2103},{"p":"d","i":0,"j":8,"z":2060},
{"p":"d","i":1,"j":0,"z":2724},{"p":"d","i":1,"j":1,"z":2634},{"p":"d","i":1,"j":2,"z":2551},{"p":"d","i":1,"j":3,"z":2476},{"p":"d","i":1,"j":4,"z":2408},{"p":"d","i":1,"j":5,"z":2348},{"p":"d","i":1,"j":6,"z":2295},{"p":"d","i":1,"j":7,"z":2250},{"p":"d","i":1,"j":8,"z":2212},
{"p":"d","i":2,"j":0,"z":2834},{"p":"d","i":2,"j":1,"z":2749},{"p":"d","i":2,"j":2,"z":2671},{"p":"d","i":2,"j":3,"z":2600},{"p":"d","i":2,"j":4,"z":2537},{"p":"d","i":2,"j":5,"z":2482},{"p":"d","i":2,"j":6,"z":2433},{"p":"d","i":2,"j":7,"z":2393},{"p":"d","i":2,"j":8,"z":2360},
{"p":"d","i":3,"j":0,"z":2939},{"p":"d","i":3,"j":1,"z":2859},{"p":"d","i":3,"j":2,"z":2785},{"p":"d","i":3,"j":3,"z":2720},{"p":"d","i":3,"j":4,"z":2661},{"p":"d","i":3,"j":5,"z":2610},{"p":"d","i":3,"j":6,"z":2567},{"p":"d","i":3,"j":7,"z":2531},{"p":"d","i":3,"j":8,"z":2503},
{"p":"d","i":4,"j":0,"z":3040},{"p":"d","i":4,"j":1,"z":2964},{"p":"d","i":4,"j":2,"z":2895},{"p":"d","i":4,"j":3,"z":2834},{"p":"d","i":4,"j":4,"z":2780},{"p":"d","i":4,"j":5,"z":2734},{"p":"d","i":4,"j":6,"z":2695},{"p":"d","i":4,"j":7,"z":2664},{"p":"d","i":4,"j":8,"z":2640},
{"p":"d","i":5,"j":0,"z":3135},{"p":"d","i":5,"j":1,"z":3064},{"p":"d","i":5,"j":2,"z":3000},{"p":"d","i":5,"j":3,"z":2943},{"p":"d","i":5,"j":4,"z":2894},{"p":"d","i":5,"j":5,"z":2853},{"p":"d","i":5,"j":6,"z":2818},{"p":"d","i":5,"j":7,"z":2792},{"p":"d","i":5,"j":8,"z":2773},
{"p":"d","i":6,"j":0,"z":3225},{"p":"d","i":6,"j":1,"z":3159},{"p":"d","i":6,"j":2,"z":3099},{"p":"d","i":6,"j":3,"z":3048},{"p":"d","i":6,"j":4,"z":3003},{"p":"d","i":6,"j":5,"z":2966},{"p":"d","i":6,"j":6,"z":2937},{"p":"d","i":6,"j":7,"z":2915},{"p":"d","i":6,"j":8,"z":2901},
{"p":"d","i":7,"j":0,"z":3310},{"p":"d","i":7,"j":1,"z":3248},{"p":"d","i":7,"j":2,"z":3194},{"p":"d","i":7,"j":3,"z":3147},{"p":"d","i":7,"j":4,"z":3107},{"p":"d","i":7,"j":5,"z":3075},{"p":"d","i":7,"j":6,"z":3050},{"p":"d","i":7,"j":7,"z":3034},{"p":"d","i":7,"j":8,"z":3024},
{"p":"d","i":8,"j":0,"z":3390},{"p":"d","i":8,"j":1,"z":3333},{"p":"d","i":8,"j":2,"z":3283},{"p":"d","i":8,"j":3,"z":3241},{"p":"d","i":8,"j":4,"z":3206},{"p":"d","i":8,"j":5,"z":3179},{"p":"d","i":8,"j":6,"z":3159},{"p":"d","i":8,"j":7,"z":3147},{"p":"d","i":8,"j":8,"z":3142},
{"p":"e","i":0,"j":0,"z":2540},{"p":"e","i":0,"j":1,"z":2551},{"p":"e","i":0,"j":2,"z":2562},{"p":"e","i":0,"j":3,"z":2574},{"p":"e","i":0,"j":4,"z":2585},{"p":"e","i":0,"j":5,"z":2596},{"p":"e","i":0,"j":6,"z":2608},{"p":"e","i":0,"j":7,"z":2619},{"p":"e","i":0,"j":8,"z":2630},
{"p":"e","i":1,"j":0,"z":2642},{"p":"e","i":1,"j":1,"z":2653},{"p":"e","i":1,"j":2,"z":2663},{"p":"e","i":1,"j":3,"z":2674},{"p":"e","i":1,"j":4,"z":2684},{"p":"e","i":1,"j":5,"z":2694},{"p":"e","i":1,"j":6,"z":2705},{"p":"e","i":1,"j":7,"z":2715},{"p":"e","i":1,"j":8,"z":2726},
{"p":"e","i":2,"j":0,"z":2745},{"p":"e","i":2,"j":1,"z":2755},{"p":"e","i":2,"j":2,"z":2764},{"p":"e","i":2,"j":3,"z":2774},{"p":"e","i":2,"j":4,"z":2783},{"p":"e","i":2,"j":5,"z":2793},{"p":"e","i":2,"j":6,"z":2802},{"p":"e","i":2,"j":7,"z":2812},{"p":"e","i":2,"j":8,"z":2821},
{"p":"e","i":3,"j":0,"z":2847},{"p":"e","i":3,"j":1,"z":2856},{"p":"e","i":3,"j":2,"z":2865},{"p":"e","i":3,"j":3,"z":2873},{"p":"e","i":3,"j":4,"z":2882},{"p":"e","i":3,"j":5,"z":2891},{"p":"e","i":3,"j":6,"z":2899},{"p":"e","i":3,"j":7,"z":2908},{"p":"e","i":3,"j":8,"z":2917},
{"p":"e","i":4,"j":0,"z":2950},{"p":"e","i":4,"j":1,"z":2958},{"p":"e","i":4,"j":2,"z":2965},{"p":"e","i":4,"j":3,"z":2973},{"p":"e","i":4,"j":4,"z":2981},{"p":"e","i":4,"j":5,"z":2989},{"p":"e","i":4,"j":6,"z":2996},{"p":"e","i":4,"j":7,"z":3004},{"p":"e","i":4,"j":8,"z":3012},
{"p":"e","i":5,"j":0,"z":3052},{"p":"e","i":5,"j":1,"z":3059},{"p":"e","i":5,"j":2,"z":3066},{"p":"e","i":5,"j":3,"z":3073},{"p":"e","i":5,"j":4,"z":3080},{"p":"e","i":5,"j":5,"z":3087},{"p":"e","i":5,"j":6,"z":3094},{"p":"e","i":5,"j":7,"z":3101},{"p":"e","i":5,"j":8,"z":3107},
{"p":"e","i":6,"j":0,"z":3155},{"p":"e","i":6,"j":1,"z":3161},{"p":"e","i":6,"j":2,"z":3167},{"p":"e","i":6,"j":3,"z":3173},{"p":"e","i":6,"j":4,"z":3179},{"p":"e","i":6,"j":5,"z":3185},{"p":"e","i":6,"j":6,"z":3191},{"p":"e","i":6,"j":7,"z":3197},{"p":"e","i":6,"j":8,"z":3203},
{"p":"e","i":7,"j":0,"z":3257},{"p":"e","i":7,"j":1,"z":3263},{"p":"e","i":7,"j":2,"z":3268},{"p":"e","i":7,"j":3,"z":3273},{"p":"e","i":7,"j":4,"z":3278},{"p":"e","i":7,"j":5,"z":3283},{"p":"e","i":7,"j":6,"z":3288},{"p":"e","i":7,"j":7,"z":3293},{"p":"e","i":7,"j":8,"z":3298},
{"p":"e","i":8,"j":0,"z":3360},{"p":"e","i":8,"j":1,"z":3364},{"p":"e","i":8,"j":2,"z":3369},{"p":"e","i":8,"j":3,"z":3373},{"p":"e","i":8,"j":4,"z":3377},{"p":"e","i":8,"j":5,"z":3381},{"p":"e","i":8,"j":6,"z":3386},{"p":"e","i":8,"j":7,"z":3390},{"p":"e","i":8,"j":8,"z":3394},
{"p":"f","i":0,"j":0,"z":3302},{"p":"f","i":0,"j":1,"z":3311},{"p":"f","i":0,"j":2,"z":3320},{"p":"f","i":0,"j":3,"z":3329},{"p":"f","i":0,"j":4,"z":3339},{"p":"f","i":0,"j":5,"z":3348},{"p":"f","i":0,"j":6,"z":3357},{"p":"f","i":0,"j":7,"z":3366},{"p":"f","i":0,"j":8,"z":3376},
{"p":"f","i":1,"j":0,"z":3263},{"p":"f","i":1,"j":1,"z":3273},{"p":"f","i":1,"j":2,"z":3283},{"p":"f","i":1,"j":3,"z":3292},{"p":"f","i":1,"j":4,"z":3302},{"p":"f","i":1,"j":5,"z":3312},{"p":"f","i":1,"j":6,"z":3321},{"p":"f","i":1,"j":7,"z":3331},{"p":"f","i":1,"j":8,"z":3341},
{"p":"f","i":2,"j":0,"z":3226},{"p":"f","i":2,"j":1,"z":3236},{"p":"f","i":2,"j":2,"z":3246},{"p":"f","i":2,"j":3,"z":3256},{"p":"f","i":2,"j":4,"z":3266},{"p":"f","i":2,"j":5,"z":3276},{"p":"f","i":2,"j":6,"z":3286},{"p":"f","i":2,"j":7,"z":3296},{"p":"f","i":2,"j":8,"z":3306},
{"p":"f","i":3,"j":0,"z":3188},{"p":"f","i":3,"j":1,"z":3199},{"p":"f","i":3,"j":2,"z":3209},{"p":"f","i":3,"j":3,"z":3220},{"p":"f","i":3,"j":4,"z":3230},{"p":"f","i":3,"j":5,"z":3240},{"p":"f","i":3,"j":6,"z":3251},{"p":"f","i":3,"j":7,"z":3261},{"p":"f","i":3,"j":8,"z":3272},
{"p":"f","i":4,"j":0,"z":3150},{"p":"f","i":4,"j":1,"z":3161},{"p":"f","i":4,"j":2,"z":3172},{"p":"f","i":4,"j":3,"z":3183},{"p":"f","i":4,"j":4,"z":3194},{"p":"f","i":4,"j":5,"z":3205},{"p":"f","i":4,"j":6,"z":3216},{"p":"f","i":4,"j":7,"z":3227},{"p":"f","i":4,"j":8,"z":3238},
{"p":"f","i":5,"j":0,"z":3113},{"p":"f","i":5,"j":1,"z":3124},{"p":"f","i":5,"j":2,"z":3135},{"p":"f","i":5,"j":3,"z":3147},{"p":"f","i":5,"j":4,"z":3158},{"p":"f","i":5,"j":5,"z":3169},{"p":"f","i":5,"j":6,"z":3181},{"p":"f","i":5,"j":7,"z":3192},{"p":"f","i":5,"j":8,"z":3203},
{"p":"f","i":6,"j":0,"z":3075},{"p":"f","i":6,"j":1,"z":3087},{"p":"f","i":6,"j":2,"z":3099},{"p":"f","i":6,"j":3,"z":3110},{"p":"f","i":6,"j":4,"z":3122},{"p":"f","i":6,"j":5,"z":3134},{"p":"f","i":6,"j":6,"z":3145},{"p":"f","i":6,"j":7,"z":3157},{"p":"f","i":6,"j":8,"z":3169},
{"p":"f","i":7,"j":0,"z":3038},{"p":"f","i":7,"j":1,"z":3050},{"p":"f","i":7,"j":2,"z":3062},{"p":"f","i":7,"j":3,"z":3074},{"p":"f","i":7,"j":4,"z":3086},{"p":"f","i":7,"j":5,"z":3098},{"p":"f","i":7,"j":6,"z":3110},{"p":"f","i":7,"j":7,"z":3122},{"p":"f","i":7,"j":8,"z":3134},
{"p":"f","i":8,"j":0,"z":3000},{"p":"f","i":8,"j":1,"z":3012},{"p":"f","i":8,"j":2,"z":3025},{"p":"f","i":8,"j":3,"z":3037},{"p":"f","i":8,"j":4,"z":3050},{"p":"f","i":8,"j":5,"z":3062},{"p":"f","i":8,"j":6,"z":3075},{"p":"f","i":8,"j":7,"z":3087},{"p":"f","i":8,"j":8,"z":3100},
{"p":"g","i":0,"j":0,"z":4.15},{"p":"g","i":0,"j":1,"z":4.163},{"p":"g","i":0,"j":2,"z":4.174},{"p":"g","i":0,"j":3,"z":4.183},{"p":"g","i":0,"j":4,"z":4.19},{"p":"g","i":0,"j":5,"z":4.195},{"p":"g","i":0,"j":6,"z":4.199},{"p":"g","i":0,"j":7,"z":4.201},{"p":"g","i":0,"j":8,"z":4.2},
{"p":"g","i":1,"j":0,"z":4.167},{"p":"g","i":1,"j":1,"z":4.182},{"p":"g","i":1,"j":2,"z":4.194},{"p":"g","i":1,"j":3,"z":4.204},{"p":"g","i":1,"j":4,"z":4.213},{"p":"g","i":1,"j":5,"z":4.22},{"p":"g","i":1,"j":6,"z":4.225},{"p":"g","i":1,"j":7,"z":4.228},{"p":"g","i":1,"j":8,"z":4.229},
{"p":"g","i":2,"j":0,"z":4.181},{"p":"g","i":2,"j":1,"z":4.197},{"p":"g","i":2,"j":2,"z":4.211},{"p":"g","i":2,"j":3,"z":4.223},{"p":"g","i":2,"j":4,"z":4.234},{"p":"g","i":2,"j":5,"z":4.242},{"p":"g","i":2,"j":6,"z":4.248},{"p":"g","i":2,"j":7,"z":4.254},{"p":"g","i":2,"j":8,"z":4.256},
{"p":"g","i":3,"j":0,"z":4.194},{"p":"g","i":3,"j":1,"z":4.212},{"p":"g","i":3,"j":2,"z":4.227},{"p":"g","i":3,"j":3,"z":4.241},{"p":"g","i":3,"j":4,"z":4.253},{"p":"g","i":3,"j":5,"z":4.263},{"p":"g","i":3,"j":6,"z":4.271},{"p":"g","i":3,"j":7,"z":4.278},{"p":"g","i":3,"j":8,"z":4.282},
{"p":"g","i":4,"j":0,"z":4.205},{"p":"g","i":4,"j":1,"z":4.225},{"p":"g","i":4,"j":2,"z":4.241},{"p":"g","i":4,"j":3,"z":4.256},{"p":"g","i":4,"j":4,"z":4.27},{"p":"g","i":4,"j":5,"z":4.282},{"p":"g","i":4,"j":6,"z":4.291},{"p":"g","i":4,"j":7,"z":4.3},{"p":"g","i":4,"j":8,"z":4.305},
{"p":"g","i":5,"j":0,"z":4.214},{"p":"g","i":5,"j":1,"z":4.235},{"p":"g","i":5,"j":2,"z":4.253},{"p":"g","i":5,"j":3,"z":4.27},{"p":"g","i":5,"j":4,"z":4.285},{"p":"g","i":5,"j":5,"z":4.298},{"p":"g","i":5,"j":6,"z":4.309},{"p":"g","i":5,"j":7,"z":4.319},{"p":"g","i":5,"j":8,"z":4.326},
{"p":"g","i":6,"j":0,"z":4.221},{"p":"g","i":6,"j":1,"z":4.244},{"p":"g","i":6,"j":2,"z":4.264},{"p":"g","i":6,"j":3,"z":4.282},{"p":"g","i":6,"j":4,"z":4.299},{"p":"g","i":6,"j":5,"z":4.314},{"p":"g","i":6,"j":6,"z":4.326},{"p":"g","i":6,"j":7,"z":4.338},{"p":"g","i":6,"j":8,"z":4.346},
{"p":"g","i":7,"j":0,"z":4.227},{"p":"g","i":7,"j":1,"z":4.251},{"p":"g","i":7,"j":2,"z":4.272},{"p":"g","i":7,"j":3,"z":4.293},{"p":"g","i":7,"j":4,"z":4.311},{"p":"g","i":7,"j":5,"z":4.327},{"p":"g","i":7,"j":6,"z":4.342},{"p":"g","i":7,"j":7,"z":4.355},{"p":"g","i":7,"j":8,"z":4.365},
{"p":"g","i":8,"j":0,"z":4.23},{"p":"g","i":8,"j":1,"z":4.256},{"p":"g","i":8,"j":2,"z":4.279},{"p":"g","i":8,"j":3,"z":4.3},{"p":"g","i":8,"j":4,"z":4.32},{"p":"g","i":8,"j":5,"z":4.338},{"p":"g","i":8,"j":6,"z":4.354},{"p":"g","i":8,"j":7,"z":4.368},{"p":"g","i":8,"j":8,"z":4.38},
{"p":"h","i":0,"j":0,"z":4.24},{"p":"h","i":0,"j":1,"z":4.241},{"p":"h","i":0,"j":2,"z":4.243},{"p":"h","i":0,"j":3,"z":4.244},{"p":"h","i":0,"j":4,"z":4.245},{"p":"h","i":0,"j":5,"z":4.246},{"p":"h","i":0,"j":6,"z":4.248},{"p":"h","i":0,"j":7,"z":4.249},{"p":"h","i":0,"j":8,"z":4.25},
{"p":"h","i":1,"j":0,"z":4.348},{"p":"h","i":1,"j":1,"z":4.354},{"p":"h","i":1,"j":2,"z":4.361},{"p":"h","i":1,"j":3,"z":4.367},{"p":"h","i":1,"j":4,"z":4.374},{"p":"h","i":1,"j":5,"z":4.38},{"p":"h","i":1,"j":6,"z":4.387},{"p":"h","i":1,"j":7,"z":4.393},{"p":"h","i":1,"j":8,"z":4.4},
{"p":"h","i":2,"j":0,"z":4.455},{"p":"h","i":2,"j":1,"z":4.467},{"p":"h","i":2,"j":2,"z":4.479},{"p":"h","i":2,"j":3,"z":4.491},{"p":"h","i":2,"j":4,"z":4.503},{"p":"h","i":2,"j":5,"z":4.515},{"p":"h","i":2,"j":6,"z":4.527},{"p":"h","i":2,"j":7,"z":4.539},{"p":"h","i":2,"j":8,"z":4.551},
{"p":"h","i":3,"j":0,"z":4.562},{"p":"h","i":3,"j":1,"z":4.579},{"p":"h","i":3,"j":2,"z":4.597},{"p":"h","i":3,"j":3,"z":4.614},{"p":"h","i":3,"j":4,"z":4.631},{"p":"h","i":3,"j":5,"z":4.648},{"p":"h","i":3,"j":6,"z":4.665},{"p":"h","i":3,"j":7,"z":4.683},{"p":"h","i":3,"j":8,"z":4.7},
{"p":"h","i":4,"j":0,"z":4.67},{"p":"h","i":4,"j":1,"z":4.693},{"p":"h","i":4,"j":2,"z":4.715},{"p":"h","i":4,"j":3,"z":4.738},{"p":"h","i":4,"j":4,"z":4.76},{"p":"h","i":4,"j":5,"z":4.783},{"p":"h","i":4,"j":6,"z":4.805},{"p":"h","i":4,"j":7,"z":4.828},{"p":"h","i":4,"j":8,"z":4.85},
{"p":"h","i":5,"j":0,"z":4.778},{"p":"h","i":5,"j":1,"z":4.806},{"p":"h","i":5,"j":2,"z":4.834},{"p":"h","i":5,"j":3,"z":4.861},{"p":"h","i":5,"j":4,"z":4.889},{"p":"h","i":5,"j":5,"z":4.917},{"p":"h","i":5,"j":6,"z":4.945},{"p":"h","i":5,"j":7,"z":4.972},{"p":"h","i":5,"j":8,"z":5},
{"p":"h","i":6,"j":0,"z":4.885},{"p":"h","i":6,"j":1,"z":4.918},{"p":"h","i":6,"j":2,"z":4.952},{"p":"h","i":6,"j":3,"z":4.985},{"p":"h","i":6,"j":4,"z":5.018},{"p":"h","i":6,"j":5,"z":5.051},{"p":"h","i":6,"j":6,"z":5.084},{"p":"h","i":6,"j":7,"z":5.117},{"p":"h","i":6,"j":8,"z":5.15},
{"p":"h","i":7,"j":0,"z":4.992},{"p":"h","i":7,"j":1,"z":5.03},{"p":"h","i":7,"j":2,"z":5.069},{"p":"h","i":7,"j":3,"z":5.108},{"p":"h","i":7,"j":4,"z":5.146},{"p":"h","i":7,"j":5,"z":5.185},{"p":"h","i":7,"j":6,"z":5.223},{"p":"h","i":7,"j":7,"z":5.262},{"p":"h","i":7,"j":8,"z":5.3},
{"p":"h","i":8,"j":0,"z":5.1},{"p":"h","i":8,"j":1,"z":5.144},{"p":"h","i":8,"j":2,"z":5.188},{"p":"h","i":8,"j":3,"z":5.231},{"p":"h","i":8,"j":4,"z":5.275},{"p":"h","i":8,"j":5,"z":5.319},{"p":"h","i":8,"j":6,"z":5.363},{"p":"h","i":8,"j":7,"z":5.406},{"p":"h","i":8,"j":8,"z":5.45},
{"p":"i","i":0,"j":0,"z":4.13},{"p":"i","i":0,"j":1,"z":4.178},{"p":"i","i":0,"j":2,"z":4.216},{"p":"i","i":0,"j":3,"z":4.235},{"p":"i","i":0,"j":4,"z":4.245},{"p":"i","i":0,"j":5,"z":4.243},{"p":"i","i":0,"j":6,"z":4.228},{"p":"i","i":0,"j":7,"z":4.2},{"p":"i","i":0,"j":8,"z":4.16},
{"p":"i","i":1,"j":0,"z":4.259},{"p":"i","i":1,"j":1,"z":4.305},{"p":"i","i":1,"j":2,"z":4.338},{"p":"i","i":1,"j":3,"z":4.358},{"p":"i","i":1,"j":4,"z":4.366},{"p":"i","i":1,"j":5,"z":4.362},{"p":"i","i":1,"j":6,"z":4.345},{"p":"i","i":1,"j":7,"z":4.315},{"p":"i","i":1,"j":8,"z":4.273},
{"p":"i","i":2,"j":0,"z":4.385},{"p":"i","i":2,"j":1,"z":4.429},{"p":"i","i":2,"j":2,"z":4.459},{"p":"i","i":2,"j":3,"z":4.478},{"p":"i","i":2,"j":4,"z":4.484},{"p":"i","i":2,"j":5,"z":4.478},{"p":"i","i":2,"j":6,"z":4.459},{"p":"i","i":2,"j":7,"z":4.427},{"p":"i","i":2,"j":8,"z":4.383},
{"p":"i","i":3,"j":0,"z":4.507},{"p":"i","i":3,"j":1,"z":4.548},{"p":"i","i":3,"j":2,"z":4.577},{"p":"i","i":3,"j":3,"z":4.594},{"p":"i","i":3,"j":4,"z":4.598},{"p":"i","i":3,"j":5,"z":4.589},{"p":"i","i":3,"j":6,"z":4.568},{"p":"i","i":3,"j":7,"z":4.534},{"p":"i","i":3,"j":8,"z":4.488},
{"p":"i","i":4,"j":0,"z":4.625},{"p":"i","i":4,"j":1,"z":4.665},{"p":"i","i":4,"j":2,"z":4.691},{"p":"i","i":4,"j":3,"z":4.706},{"p":"i","i":4,"j":4,"z":4.708},{"p":"i","i":4,"j":5,"z":4.697},{"p":"i","i":4,"j":6,"z":4.674},{"p":"i","i":4,"j":7,"z":4.638},{"p":"i","i":4,"j":8,"z":4.59},
{"p":"i","i":5,"j":0,"z":4.739},{"p":"i","i":5,"j":1,"z":4.777},{"p":"i","i":5,"j":2,"z":4.801},{"p":"i","i":5,"j":3,"z":4.814},{"p":"i","i":5,"j":4,"z":4.814},{"p":"i","i":5,"j":5,"z":4.801},{"p":"i","i":5,"j":6,"z":4.776},{"p":"i","i":5,"j":7,"z":4.738},{"p":"i","i":5,"j":8,"z":4.688},
{"p":"i","i":6,"j":0,"z":4.85},{"p":"i","i":6,"j":1,"z":4.886},{"p":"i","i":6,"j":2,"z":4.908},{"p":"i","i":6,"j":3,"z":4.919},{"p":"i","i":6,"j":4,"z":4.916},{"p":"i","i":6,"j":5,"z":4.902},{"p":"i","i":6,"j":6,"z":4.874},{"p":"i","i":6,"j":7,"z":4.835},{"p":"i","i":6,"j":8,"z":4.782},
{"p":"i","i":7,"j":0,"z":4.957},{"p":"i","i":7,"j":1,"z":4.991},{"p":"i","i":7,"j":2,"z":5.011},{"p":"i","i":7,"j":3,"z":5.02},{"p":"i","i":7,"j":4,"z":5.015},{"p":"i","i":7,"j":5,"z":4.998},{"p":"i","i":7,"j":6,"z":4.969},{"p":"i","i":7,"j":7,"z":4.928},{"p":"i","i":7,"j":8,"z":4.873},
{"p":"i","i":8,"j":0,"z":5.06},{"p":"i","i":8,"j":1,"z":5.092},{"p":"i","i":8,"j":2,"z":5.11},{"p":"i","i":8,"j":3,"z":5.117},{"p":"i","i":8,"j":4,"z":5.11},{"p":"i","i":8,"j":5,"z":5.092},{"p":"i","i":8,"j":6,"z":5.06},{"p":"i","i":8,"j":7,"z":5.017},{"p":"i","i":8,"j":8,"z":4.96},
{"p":"j","i":0,"j":0,"z":1.51},{"p":"j","i":0,"j":1,"z":1.632},{"p":"j","i":0,"j":2,"z":1.744},{"p":"j","i":0,"j":3,"z":1.845},{"p":"j","i":0,"j":4,"z":1.935},{"p":"j","i":0,"j":5,"z":2.015},{"p":"j","i":0,"j":6,"z":2.084},{"p":"j","i":0,"j":7,"z":2.142},{"p":"j","i":0,"j":8,"z":2.19},
{"p":"j","i":1,"j":0,"z":1.635},{"p":"j","i":1,"j":1,"z":1.758},{"p":"j","i":1,"j":2,"z":1.872},{"p":"j","i":1,"j":3,"z":1.974},{"p":"j","i":1,"j":4,"z":2.065},{"p":"j","i":1,"j":5,"z":2.146},{"p":"j","i":1,"j":6,"z":2.217},{"p":"j","i":1,"j":7,"z":2.276},{"p":"j","i":1,"j":8,"z":2.325},
{"p":"j","i":2,"j":0,"z":1.75},{"p":"j","i":2,"j":1,"z":1.875},{"p":"j","i":2,"j":2,"z":1.989},{"p":"j","i":2,"j":3,"z":2.093},{"p":"j","i":2,"j":4,"z":2.185},{"p":"j","i":2,"j":5,"z":2.268},{"p":"j","i":2,"j":6,"z":2.339},{"p":"j","i":2,"j":7,"z":2.4},{"p":"j","i":2,"j":8,"z":2.45},
{"p":"j","i":3,"j":0,"z":1.857},{"p":"j","i":3,"j":1,"z":1.983},{"p":"j","i":3,"j":2,"z":2.098},{"p":"j","i":3,"j":3,"z":2.203},{"p":"j","i":3,"j":4,"z":2.297},{"p":"j","i":3,"j":5,"z":2.381},{"p":"j","i":3,"j":6,"z":2.454},{"p":"j","i":3,"j":7,"z":2.515},{"p":"j","i":3,"j":8,"z":2.567},
{"p":"j","i":4,"j":0,"z":1.955},{"p":"j","i":4,"j":1,"z":2.082},{"p":"j","i":4,"j":2,"z":2.199},{"p":"j","i":4,"j":3,"z":2.305},{"p":"j","i":4,"j":4,"z":2.4},{"p":"j","i":4,"j":5,"z":2.485},{"p":"j","i":4,"j":6,"z":2.559},{"p":"j","i":4,"j":7,"z":2.622},{"p":"j","i":4,"j":8,"z":2.675},
{"p":"j","i":5,"j":0,"z":2.045},{"p":"j","i":5,"j":1,"z":2.173},{"p":"j","i":5,"j":2,"z":2.292},{"p":"j","i":5,"j":3,"z":2.399},{"p":"j","i":5,"j":4,"z":2.495},{"p":"j","i":5,"j":5,"z":2.581},{"p":"j","i":5,"j":6,"z":2.656},{"p":"j","i":5,"j":7,"z":2.721},{"p":"j","i":5,"j":8,"z":2.775},
{"p":"j","i":6,"j":0,"z":2.125},{"p":"j","i":6,"j":1,"z":2.255},{"p":"j","i":6,"j":2,"z":2.374},{"p":"j","i":6,"j":3,"z":2.482},{"p":"j","i":6,"j":4,"z":2.58},{"p":"j","i":6,"j":5,"z":2.668},{"p":"j","i":6,"j":6,"z":2.744},{"p":"j","i":6,"j":7,"z":2.81},{"p":"j","i":6,"j":8,"z":2.865},
{"p":"j","i":7,"j":0,"z":2.197},{"p":"j","i":7,"j":1,"z":2.328},{"p":"j","i":7,"j":2,"z":2.449},{"p":"j","i":7,"j":3,"z":2.558},{"p":"j","i":7,"j":4,"z":2.657},{"p":"j","i":7,"j":5,"z":2.746},{"p":"j","i":7,"j":6,"z":2.823},{"p":"j","i":7,"j":7,"z":2.89},{"p":"j","i":7,"j":8,"z":2.947},
{"p":"j","i":8,"j":0,"z":2.26},{"p":"j","i":8,"j":1,"z":2.392},{"p":"j","i":8,"j":2,"z":2.514},{"p":"j","i":8,"j":3,"z":2.625},{"p":"j","i":8,"j":4,"z":2.725},{"p":"j","i":8,"j":5,"z":2.815},{"p":"j","i":8,"j":6,"z":2.894},{"p":"j","i":8,"j":7,"z":2.962},{"p":"j","i":8,"j":8,"z":3.02},
{"p":"k","i":0,"j":0,"z":2.28},{"p":"k","i":0,"j":1,"z":2.154},{"p":"k","i":0,"j":2,"z":2.05},{"p":"k","i":0,"j":3,"z":1.969},{"p":"k","i":0,"j":4,"z":1.91},{"p":"k","i":0,"j":5,"z":1.874},{"p":"k","i":0,"j":6,"z":1.86},{"p":"k","i":0,"j":7,"z":1.869},{"p":"k","i":0,"j":8,"z":1.9},
{"p":"k","i":1,"j":0,"z":2.41},{"p":"k","i":1,"j":1,"z":2.28},{"p":"k","i":1,"j":2,"z":2.173},{"p":"k","i":1,"j":3,"z":2.087},{"p":"k","i":1,"j":4,"z":2.025},{"p":"k","i":1,"j":5,"z":1.985},{"p":"k","i":1,"j":6,"z":1.967},{"p":"k","i":1,"j":7,"z":1.972},{"p":"k","i":1,"j":8,"z":2},
{"p":"k","i":2,"j":0,"z":2.54},{"p":"k","i":2,"j":1,"z":2.406},{"p":"k","i":2,"j":2,"z":2.295},{"p":"k","i":2,"j":3,"z":2.206},{"p":"k","i":2,"j":4,"z":2.14},{"p":"k","i":2,"j":5,"z":2.096},{"p":"k","i":2,"j":6,"z":2.075},{"p":"k","i":2,"j":7,"z":2.076},{"p":"k","i":2,"j":8,"z":2.1},
{"p":"k","i":3,"j":0,"z":2.67},{"p":"k","i":3,"j":1,"z":2.532},{"p":"k","i":3,"j":2,"z":2.418},{"p":"k","i":3,"j":3,"z":2.325},{"p":"k","i":3,"j":4,"z":2.255},{"p":"k","i":3,"j":5,"z":2.207},{"p":"k","i":3,"j":6,"z":2.183},{"p":"k","i":3,"j":7,"z":2.18},{"p":"k","i":3,"j":8,"z":2.2},
{"p":"k","i":4,"j":0,"z":2.8},{"p":"k","i":4,"j":1,"z":2.659},{"p":"k","i":4,"j":2,"z":2.54},{"p":"k","i":4,"j":3,"z":2.444},{"p":"k","i":4,"j":4,"z":2.37},{"p":"k","i":4,"j":5,"z":2.319},{"p":"k","i":4,"j":6,"z":2.29},{"p":"k","i":4,"j":7,"z":2.284},{"p":"k","i":4,"j":8,"z":2.3},
{"p":"k","i":5,"j":0,"z":2.93},{"p":"k","i":5,"j":1,"z":2.785},{"p":"k","i":5,"j":2,"z":2.663},{"p":"k","i":5,"j":3,"z":2.562},{"p":"k","i":5,"j":4,"z":2.485},{"p":"k","i":5,"j":5,"z":2.43},{"p":"k","i":5,"j":6,"z":2.398},{"p":"k","i":5,"j":7,"z":2.387},{"p":"k","i":5,"j":8,"z":2.4},
{"p":"k","i":6,"j":0,"z":3.06},{"p":"k","i":6,"j":1,"z":2.911},{"p":"k","i":6,"j":2,"z":2.785},{"p":"k","i":6,"j":3,"z":2.681},{"p":"k","i":6,"j":4,"z":2.6},{"p":"k","i":6,"j":5,"z":2.541},{"p":"k","i":6,"j":6,"z":2.505},{"p":"k","i":6,"j":7,"z":2.491},{"p":"k","i":6,"j":8,"z":2.5},
{"p":"k","i":7,"j":0,"z":3.19},{"p":"k","i":7,"j":1,"z":3.037},{"p":"k","i":7,"j":2,"z":2.908},{"p":"k","i":7,"j":3,"z":2.8},{"p":"k","i":7,"j":4,"z":2.715},{"p":"k","i":7,"j":5,"z":2.652},{"p":"k","i":7,"j":6,"z":2.613},{"p":"k","i":7,"j":7,"z":2.595},{"p":"k","i":7,"j":8,"z":2.6},
{"p":"k","i":8,"j":0,"z":3.32},{"p":"k","i":8,"j":1,"z":3.164},{"p":"k","i":8,"j":2,"z":3.03},{"p":"k","i":8,"j":3,"z":2.919},{"p":"k","i":8,"j":4,"z":2.83},{"p":"k","i":8,"j":5,"z":2.764},{"p":"k","i":8,"j":6,"z":2.72},{"p":"k","i":8,"j":7,"z":2.699},{"p":"k","i":8,"j":8,"z":2.7},
{"p":"l","i":0,"j":0,"z":2.9},{"p":"l","i":0,"j":1,"z":2.722},{"p":"l","i":0,"j":2,"z":2.568},{"p":"l","i":0,"j":3,"z":2.439},{"p":"l","i":0,"j":4,"z":2.335},{"p":"l","i":0,"j":5,"z":2.257},{"p":"l","i":0,"j":6,"z":2.203},{"p":"l","i":0,"j":7,"z":2.174},{"p":"l","i":0,"j":8,"z":2.17},
{"p":"l","i":1,"j":0,"z":2.968},{"p":"l","i":1,"j":1,"z":2.791},{"p":"l","i":1,"j":2,"z":2.639},{"p":"l","i":1,"j":3,"z":2.512},{"p":"l","i":1,"j":4,"z":2.409},{"p":"l","i":1,"j":5,"z":2.332},{"p":"l","i":1,"j":6,"z":2.28},{"p":"l","i":1,"j":7,"z":2.253},{"p":"l","i":1,"j":8,"z":2.25},
{"p":"l","i":2,"j":0,"z":3.036},{"p":"l","i":2,"j":1,"z":2.861},{"p":"l","i":2,"j":2,"z":2.71},{"p":"l","i":2,"j":3,"z":2.584},{"p":"l","i":2,"j":4,"z":2.483},{"p":"l","i":2,"j":5,"z":2.408},{"p":"l","i":2,"j":6,"z":2.357},{"p":"l","i":2,"j":7,"z":2.331},{"p":"l","i":2,"j":8,"z":2.33},
{"p":"l","i":3,"j":0,"z":3.102},{"p":"l","i":3,"j":1,"z":2.929},{"p":"l","i":3,"j":2,"z":2.779},{"p":"l","i":3,"j":3,"z":2.655},{"p":"l","i":3,"j":4,"z":2.556},{"p":"l","i":3,"j":5,"z":2.483},{"p":"l","i":3,"j":6,"z":2.433},{"p":"l","i":3,"j":7,"z":2.409},{"p":"l","i":3,"j":8,"z":2.41},
{"p":"l","i":4,"j":0,"z":3.17},{"p":"l","i":4,"j":1,"z":2.998},{"p":"l","i":4,"j":2,"z":2.85},{"p":"l","i":4,"j":3,"z":2.728},{"p":"l","i":4,"j":4,"z":2.63},{"p":"l","i":4,"j":5,"z":2.558},{"p":"l","i":4,"j":6,"z":2.51},{"p":"l","i":4,"j":7,"z":2.488},{"p":"l","i":4,"j":8,"z":2.49},
{"p":"l","i":5,"j":0,"z":3.238},{"p":"l","i":5,"j":1,"z":3.067},{"p":"l","i":5,"j":2,"z":2.921},{"p":"l","i":5,"j":3,"z":2.801},{"p":"l","i":5,"j":4,"z":2.704},{"p":"l","i":5,"j":5,"z":2.634},{"p":"l","i":5,"j":6,"z":2.587},{"p":"l","i":5,"j":7,"z":2.566},{"p":"l","i":5,"j":8,"z":2.57},
{"p":"l","i":6,"j":0,"z":3.306},{"p":"l","i":6,"j":1,"z":3.137},{"p":"l","i":6,"j":2,"z":2.992},{"p":"l","i":6,"j":3,"z":2.873},{"p":"l","i":6,"j":4,"z":2.778},{"p":"l","i":6,"j":5,"z":2.709},{"p":"l","i":6,"j":6,"z":2.664},{"p":"l","i":6,"j":7,"z":2.645},{"p":"l","i":6,"j":8,"z":2.65},
{"p":"l","i":7,"j":0,"z":3.372},{"p":"l","i":7,"j":1,"z":3.205},{"p":"l","i":7,"j":2,"z":3.062},{"p":"l","i":7,"j":3,"z":2.944},{"p":"l","i":7,"j":4,"z":2.851},{"p":"l","i":7,"j":5,"z":2.784},{"p":"l","i":7,"j":6,"z":2.74},{"p":"l","i":7,"j":7,"z":2.723},{"p":"l","i":7,"j":8,"z":2.73},
{"p":"l","i":8,"j":0,"z":3.44},{"p":"l","i":8,"j":1,"z":3.274},{"p":"l","i":8,"j":2,"z":3.133},{"p":"l","i":8,"j":3,"z":3.017},{"p":"l","i":8,"j":4,"z":2.925},{"p":"l","i":8,"j":5,"z":2.859},{"p":"l","i":8,"j":6,"z":2.818},{"p":"l","i":8,"j":7,"z":2.802},{"p":"l","i":8,"j":8,"z":2.81}
]},
"data":{"name":"rows"},
"transform":[
{"lookup":"p","from":{"data":{"name":"panels"},"key":"p","fields":["fx","fy","rx","ry","bx","by","lx","ly","afx","afy","arx","ary","abx","aby","alx","aly","zmin","zmax","cmin","cspan","tux","tuy","tvx","tvy","twx","twy","tagx","tagy"]}},
{"calculate":"indexof('abcdefghijkl',datum.p)","as":"idx"},
{"calculate":"221*(datum.idx%3)","as":"cx"},
{"calculate":"214*floor(datum.idx/3)","as":"cy"},
{"calculate":"(datum.kind=='u'||datum.kind=='v'||datum.kind=='w')?[0,1,2]:[0]","as":"n"},
{"flatten":["n"]},
{"calculate":"datum.kind=='u'?datum.f:(datum.kind=='v'||datum.kind=='w')?(datum.n>0?1:0):datum.kind=='tu'?0.5:(datum.kind=='tv'||datum.kind=='tw')?0:(datum.kind=='c'||datum.kind=='flag')?datum.u:datum.i/8","as":"uu"},
{"calculate":"datum.kind=='u'?(datum.n>0?1:0):datum.kind=='v'?datum.f:datum.kind=='w'?(datum.n<2?1:0):datum.kind=='tu'?0:datum.kind=='tv'?0.5:datum.kind=='tw'?1:(datum.kind=='c'||datum.kind=='flag')?datum.v:datum.j/8","as":"vv"},
{"calculate":"(datum.kind=='u'||datum.kind=='v')?(datum.n==2?1:0):datum.kind=='w'?datum.f:datum.kind=='tw'?0.5:(datum.kind=='tu'||datum.kind=='tv'||datum.kind=='c')?0:datum.kind=='flag'?datum.w:(datum.z-datum.zmin)/(datum.zmax-datum.zmin)","as":"ww"},
{"calculate":"(1-datum.uu)*(1-datum.vv)","as":"a0"},{"calculate":"datum.uu*(1-datum.vv)","as":"a1"},{"calculate":"datum.uu*datum.vv","as":"a2"},{"calculate":"(1-datum.uu)*datum.vv","as":"a3"},
{"calculate":"datum.a0*datum.fx+datum.a1*datum.rx+datum.a2*datum.bx+datum.a3*datum.lx","as":"gx"},
{"calculate":"datum.a0*datum.fy+datum.a1*datum.ry+datum.a2*datum.by+datum.a3*datum.ly","as":"gy"},
{"calculate":"datum.a0*datum.afx+datum.a1*datum.arx+datum.a2*datum.abx+datum.a3*datum.alx","as":"hx"},
{"calculate":"datum.a0*datum.afy+datum.a1*datum.ary+datum.a2*datum.aby+datum.a3*datum.aly","as":"hy"},
{"calculate":"datum.cx+datum.gx+datum.ww*(datum.hx-datum.gx)","as":"sx"},
{"calculate":"datum.cy+datum.gy+datum.ww*(datum.hy-datum.gy)","as":"sy"}
],
"projection":{"type":"identity","scale":1,"translate":[0,0]},
"layer":[
{"transform":[{"filter":"datum.kind=='w'||((datum.kind=='u'||datum.kind=='v')&&datum.n>0)"},{"calculate":"datum.p+datum.kind+datum.f","as":"line"}],
"mark":{"type":"line","stroke":"#c4c4c4","strokeWidth":0.7},
"encoding":{"longitude":{"field":"sx","type":"quantitative"},"latitude":{"field":"sy","type":"quantitative"},"detail":{"field":"line"},"order":{"field":"n"}}},
{"transform":[{"filter":"datum.kind=='floor'"},{"calculate":"{type:'Feature',geometry:{type:'Polygon',coordinates:[[[datum.cx+datum.fx,datum.cy+datum.fy],[datum.cx+datum.rx,datum.cy+datum.ry],[datum.cx+datum.bx,datum.cy+datum.by],[datum.cx+datum.lx,datum.cy+datum.ly],[datum.cx+datum.fx,datum.cy+datum.fy]]]}}","as":"geo"}],
"mark":{"type":"geoshape","fill":"#5f5f5f","stroke":"#777","strokeWidth":0.4},
"encoding":{"shape":{"field":"geo","type":"geojson"}}},
{"transform":[{"filter":"datum.kind=='c'"},{"calculate":"(datum.z-datum.cmin)/datum.cspan","as":"t"},{"calculate":"datum.p+datum.c","as":"cid"}],
"mark":{"type":"line","strokeWidth":0.8,"interpolate":"cardinal"},
"encoding":{"longitude":{"field":"sx","type":"quantitative"},"latitude":{"field":"sy","type":"quantitative"},"detail":{"field":"cid"},
"color":{"field":"t","type":"quantitative","scale":{"domain":[0,0.25,0.5,0.75,1],"range":["#0030e8","#00e0e8","#10e020","#e8e810","#f02808"],"clamp":true,"interpolate":"rgb"},"legend":null}}},
{"transform":[{"filter":"!datum.kind"},
{"window":[{"op":"lead","field":"sx","as":"xj"},{"op":"lead","field":"sy","as":"yj"},{"op":"lead","field":"z","as":"zj"}],"groupby":["p","i"],"sort":[{"field":"j"}]},
{"window":[{"op":"lead","field":"sx","as":"xi"},{"op":"lead","field":"sy","as":"yi"},{"op":"lead","field":"z","as":"zi"},{"op":"lead","field":"xj","as":"xij"},{"op":"lead","field":"yj","as":"yij"},{"op":"lead","field":"zj","as":"zij"}],"groupby":["p","j"],"sort":[{"field":"i"}]},
{"filter":"datum.xij!=null&&datum.xi!=null&&datum.xj!=null"},
{"calculate":"{type:'Feature',geometry:{type:'Polygon',coordinates:[[[datum.sx,datum.sy],[datum.xi,datum.yi],[datum.xij,datum.yij],[datum.xj,datum.yj],[datum.sx,datum.sy]]]}}","as":"geo"},
{"calculate":"((datum.z+datum.zi+datum.zj+datum.zij)/4-datum.cmin)/datum.cspan","as":"t"},
{"calculate":"-(datum.i+datum.j)","as":"depth"}],
"mark":{"type":"geoshape","stroke":"#103048","strokeWidth":0.3,"strokeOpacity":0.4},
"encoding":{"shape":{"field":"geo","type":"geojson"},"order":{"field":"depth"},
"color":{"field":"t","type":"quantitative","scale":{"domain":[0,0.25,0.5,0.75,1],"range":["#0030e8","#00e0e8","#10e020","#e8e810","#f02808"],"clamp":true,"interpolate":"rgb"},"legend":null}}},
{"transform":[{"filter":"datum.kind=='pt'"}],"mark":{"type":"circle","size":12,"opacity":1},
"encoding":{"longitude":{"field":"sx","type":"quantitative"},"latitude":{"field":"sy","type":"quantitative"},"color":{"condition":{"test":"datum.res=='above'","value":"#c00010"},"value":"#f5b8b8"}}},
{"transform":[{"filter":"datum.kind=='u'&&datum.n==0"}],"mark":{"type":"text","font":"Liberation Serif","fontSize":6.6,"fill":"#222","align":"left","baseline":"middle","dx":3,"dy":6},
"encoding":{"longitude":{"field":"sx","type":"quantitative"},"latitude":{"field":"sy","type":"quantitative"},"text":{"field":"label"}}},
{"transform":[{"filter":"datum.kind=='v'&&datum.n==0"}],"mark":{"type":"text","font":"Liberation Serif","fontSize":6.6,"fill":"#222","align":"right","baseline":"middle","dx":-3,"dy":6},
"encoding":{"longitude":{"field":"sx","type":"quantitative"},"latitude":{"field":"sy","type":"quantitative"},"text":{"field":"label"}}},
{"transform":[{"filter":"datum.kind=='w'&&datum.n==0"}],"mark":{"type":"text","font":"Liberation Serif","fontSize":6.6,"fill":"#222","align":"right","baseline":"middle","dx":-3,"dy":0},
"encoding":{"longitude":{"field":"sx","type":"quantitative"},"latitude":{"field":"sy","type":"quantitative"},"text":{"field":"label"}}},
{"transform":[{"filter":"datum.kind=='tu'||datum.kind=='tv'"},{"calculate":"datum.sx+(datum.kind=='tu'?datum.tux:datum.tvx)","as":"tx"},{"calculate":"datum.sy+(datum.kind=='tu'?datum.tuy:datum.tvy)","as":"ty"}],
"mark":{"type":"text","font":"Liberation Serif","fontSize":6.6,"fill":"#222","align":"center","baseline":"middle"},
"encoding":{"longitude":{"field":"tx","type":"quantitative"},"latitude":{"field":"ty","type":"quantitative"},"text":{"field":"label"}}},
{"transform":[{"filter":"datum.kind=='tw'"},{"calculate":"datum.sx+datum.twx","as":"tx"},{"calculate":"datum.sy+datum.twy","as":"ty"}],
"mark":{"type":"text","font":"Liberation Serif","fontSize":6.6,"fill":"#222","align":"center","baseline":"middle","angle":270},
"encoding":{"longitude":{"field":"tx","type":"quantitative"},"latitude":{"field":"ty","type":"quantitative"},"text":{"field":"label"}}},
{"transform":[{"filter":"datum.kind=='flag'"}],"mark":{"type":"point","shape":"M-1,-0.33H1V0.33H-1Z","size":225,"filled":true,"fill":"#f6f6f6","stroke":"#aaa","strokeWidth":0.5,"opacity":1},
"encoding":{"longitude":{"field":"sx","type":"quantitative"},"latitude":{"field":"sy","type":"quantitative"}}},
{"transform":[{"filter":"datum.kind=='flag'"}],"mark":{"type":"text","font":"Liberation Serif","fontSize":3.4,"fill":"#333","align":"center","baseline":"middle"},
"encoding":{"longitude":{"field":"sx","type":"quantitative"},"latitude":{"field":"sy","type":"quantitative"},"text":{"field":"label"}}},
{"transform":[{"filter":"datum.kind=='floor'"},{"calculate":"'('+datum.p+')'","as":"tag"},{"calculate":"datum.cx+datum.tagx","as":"tx"},{"calculate":"datum.cy+datum.tagy","as":"ty"}],"mark":{"type":"text","font":"Liberation Serif","fontSize":14.5,"fontStyle":"italic","fill":"#111","align":"left","baseline":"middle"},
"encoding":{"longitude":{"field":"tx","type":"quantitative"},"latitude":{"field":"ty","type":"quantitative"},"text":{"field":"tag"}}}
]}
